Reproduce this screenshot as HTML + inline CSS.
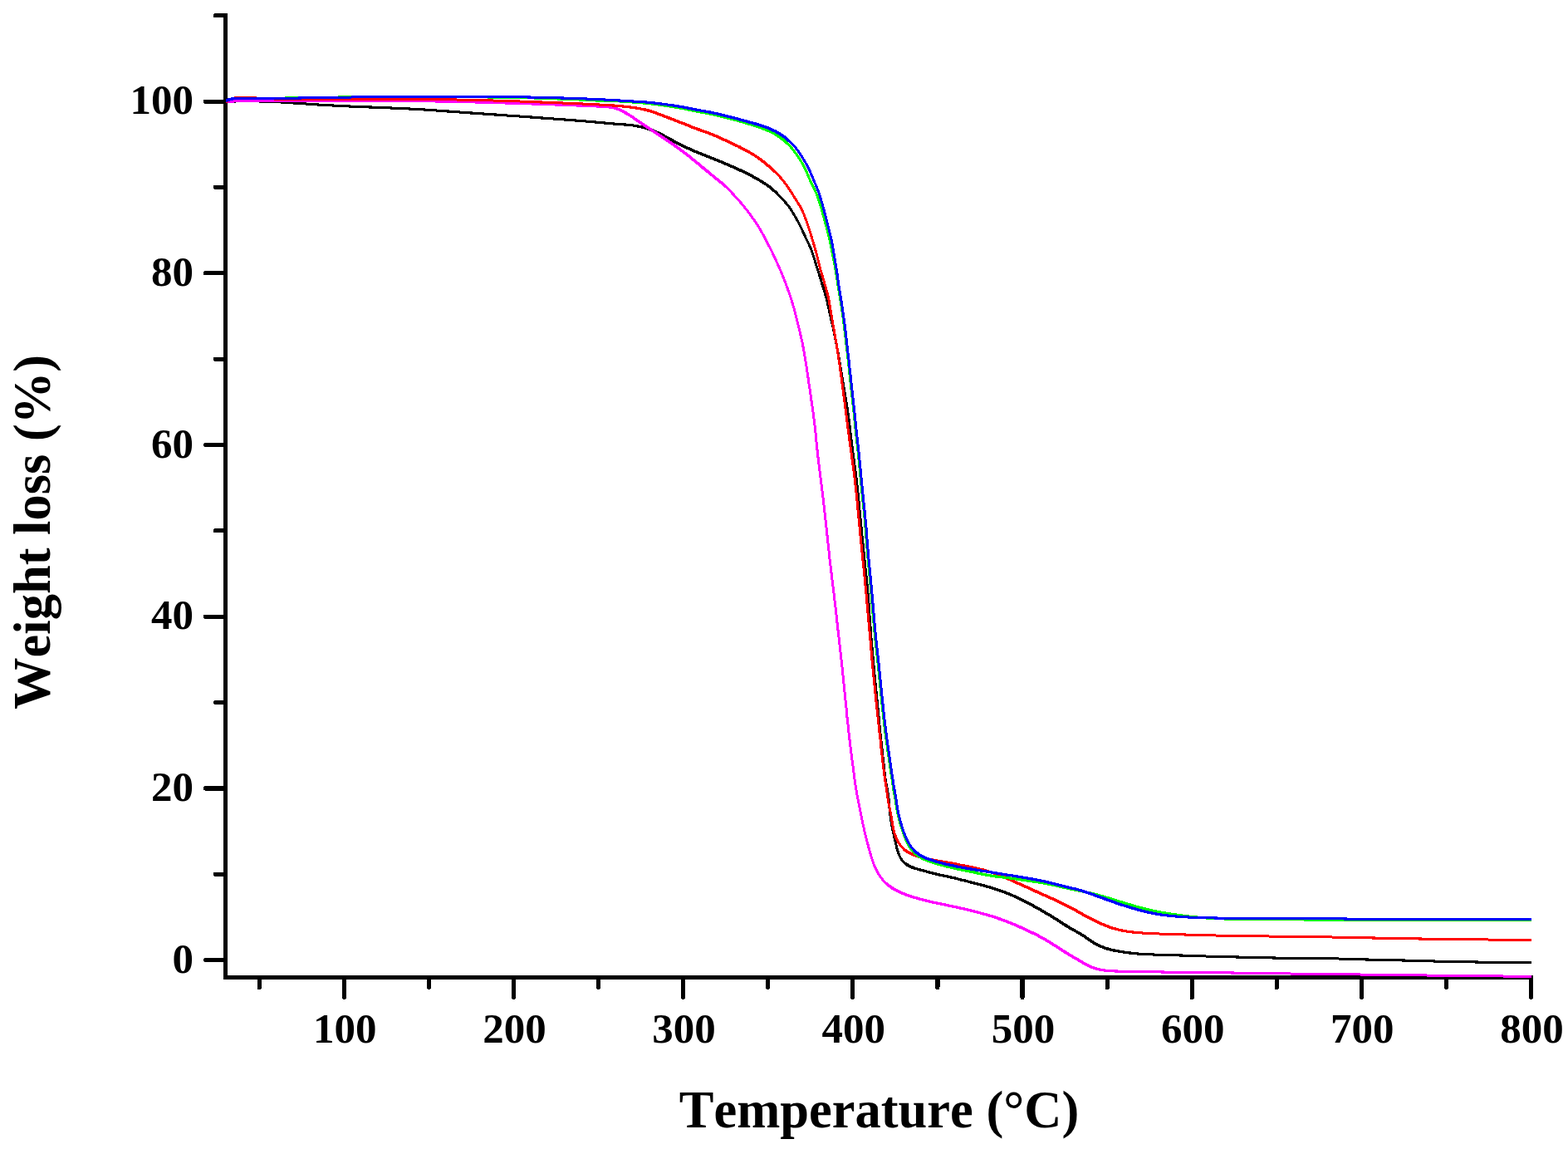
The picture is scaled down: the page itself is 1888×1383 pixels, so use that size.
<!DOCTYPE html>
<html lang="en"><head><meta charset="utf-8"><title>Weight loss vs Temperature</title>
<style>html,body{margin:0;padding:0;background:#fff;overflow:hidden}svg{display:block}</style></head>
<body><svg role="img" aria-label="Weight loss (%) versus Temperature (°C)" width="1888" height="1383" viewBox="0 0 1888 1383">
<rect width="1888" height="1383" fill="#fff"/>
<g fill="none" stroke="#000" stroke-width="5.2" stroke-linecap="round" shape-rendering="crispEdges">
<path d="M271.5,16.3 V1176.4 H1846.1" stroke-linecap="butt" stroke-linejoin="miter"/>
<path d="M247.5,1155.6 H270.5"/>
<path d="M259.5,1052.2 H270.5"/>
<path d="M247.5,948.9 H270.5"/>
<path d="M259.5,845.5 H270.5"/>
<path d="M247.5,742.2 H270.5"/>
<path d="M259.5,638.8 H270.5"/>
<path d="M247.5,535.5 H270.5"/>
<path d="M259.5,432.1 H270.5"/>
<path d="M247.5,328.8 H270.5"/>
<path d="M259.5,225.4 H270.5"/>
<path d="M247.5,122.1 H270.5"/>
<path d="M259.5,18.7 H270.5"/>
<path d="M312.2,1177.4 V1188.4"/>
<path d="M414.3,1177.4 V1200.4"/>
<path d="M516.4,1177.4 V1188.4"/>
<path d="M618.5,1177.4 V1200.4"/>
<path d="M720.6,1177.4 V1188.4"/>
<path d="M822.6,1177.4 V1200.4"/>
<path d="M924.7,1177.4 V1188.4"/>
<path d="M1026.8,1177.4 V1200.4"/>
<path d="M1128.9,1177.4 V1188.4"/>
<path d="M1231.0,1177.4 V1200.4"/>
<path d="M1333.1,1177.4 V1188.4"/>
<path d="M1435.2,1177.4 V1200.4"/>
<path d="M1537.2,1177.4 V1188.4"/>
<path d="M1639.3,1177.4 V1200.4"/>
<path d="M1741.4,1177.4 V1188.4"/>
<path d="M1843.5,1177.4 V1200.4"/>
</g>
<g stroke="none" shape-rendering="crispEdges">
<path d="M271.7,120.9 275.7,120.7 279.7,120.6 283.7,120.5 287.7,120.4 291.7,120.4 295.7,120.3 299.7,120.3 303.7,120.3 307.7,120.4 311.7,120.5 315.7,120.6 319.7,120.7 323.7,120.8 327.7,121.0 331.7,121.1 335.7,121.3 339.7,121.5 343.7,121.8 347.7,122.0 351.7,122.3 355.7,122.5 359.7,122.8 363.7,123.1 367.7,123.4 371.6,123.7 375.6,123.9 379.6,124.2 383.6,124.5 387.6,124.7 391.6,125.0 395.6,125.2 399.6,125.4 403.6,125.6 407.6,125.8 411.6,126.0 415.6,126.2 419.6,126.4 423.6,126.6 427.6,126.7 431.6,126.9 435.6,127.1 439.6,127.2 443.6,127.4 447.6,127.5 451.6,127.7 455.6,127.8 459.6,128.0 463.6,128.2 467.6,128.3 471.6,128.5 475.6,128.7 479.6,128.9 483.6,129.0 487.6,129.2 491.6,129.4 495.6,129.6 499.6,129.8 503.6,130.0 507.6,130.3 511.6,130.5 515.5,130.8 519.5,131.0 523.5,131.3 527.5,131.6 531.5,131.8 535.5,132.1 539.5,132.4 543.5,132.7 547.5,133.0 551.5,133.3 555.5,133.6 559.5,133.9 563.5,134.1 567.4,134.4 571.4,134.7 575.4,135.0 579.4,135.3 583.4,135.5 587.4,135.8 591.4,136.1 595.4,136.4 599.4,136.6 603.4,136.9 607.4,137.2 611.4,137.5 615.4,137.7 619.3,138.0 623.3,138.3 627.3,138.6 631.3,138.9 635.3,139.2 639.3,139.4 643.3,139.7 647.3,140.0 651.3,140.3 655.3,140.6 659.3,140.9 663.3,141.2 667.2,141.5 671.2,141.8 675.2,142.1 679.2,142.4 683.2,142.7 687.2,143.0 691.2,143.3 695.2,143.6 699.2,143.9 703.2,144.2 707.1,144.6 711.1,144.9 715.1,145.3 719.1,145.6 723.1,146.0 727.1,146.4 731.1,146.7 735.0,147.1 739.0,147.4 743.0,147.7 747.0,148.0 751.0,148.3 755.0,148.6 759.0,149.0 763.0,149.5 766.9,150.1 770.8,150.8 774.7,151.7 778.5,152.8 782.3,154.0 786.1,155.3 789.8,156.8 793.4,158.4 797.0,160.2 800.5,162.0 804.0,163.9 807.5,165.9 811.1,167.8 814.6,169.7 818.1,171.6 821.7,173.4 825.4,175.1 829.0,176.8 832.6,178.4 836.3,180.0 840.0,181.6 843.7,183.1 847.4,184.6 851.2,186.0 854.9,187.5 858.6,189.0 862.3,190.5 866.0,192.0 869.7,193.5 873.4,195.1 877.1,196.7 880.7,198.2 884.4,199.8 888.1,201.5 891.7,203.1 895.3,204.8 898.9,206.6 902.5,208.4 906.0,210.2 909.5,212.1 913.0,214.1 916.5,216.1 919.9,218.1 923.2,220.3 926.5,222.5 929.6,225.0 932.5,227.6 935.4,230.3 940.4,235.6 943.1,238.5 945.8,241.4 948.4,244.4 950.8,247.5 953.1,250.7 955.2,254.0 957.3,257.5 959.3,260.9 961.3,264.4 963.2,267.9 965.0,271.5 966.7,275.1 968.3,278.7 970.0,282.3 971.7,286.0 973.4,289.6 975.2,293.2 976.8,296.8 978.4,300.5 979.7,304.2 981.0,308.0 982.2,311.9 983.3,315.7 984.5,319.5 985.7,323.3 986.9,327.1 988.2,331.0 989.3,334.8 990.5,338.6 991.6,342.5 992.8,346.3 994.0,350.1 995.1,354.0 996.2,357.8 997.2,361.7 998.1,365.6 999.0,369.5 999.8,373.4 1000.7,377.3 1001.6,381.2 1002.5,385.1 1003.4,389.0 1004.3,392.9 1005.1,396.8 1006.0,400.7 1006.7,404.6 1007.5,408.6 1008.3,412.5 1009.0,416.4 1009.7,420.4 1010.5,424.3 1011.2,428.2 1011.9,432.2 1012.6,436.1 1013.2,440.1 1013.9,444.0 1014.6,448.0 1015.2,451.9 1015.9,455.8 1016.5,459.8 1017.2,463.7 1017.8,467.7 1018.4,471.6 1019.1,475.6 1019.8,479.5 1020.4,483.5 1021.1,487.4 1021.7,491.4 1022.3,495.3 1022.9,499.3 1023.4,503.3 1023.9,507.2 1024.4,511.2 1024.9,515.2 1025.3,519.2 1025.8,523.1 1026.3,527.1 1026.8,531.1 1027.3,535.1 1027.8,539.0 1028.3,543.0 1028.8,547.0 1029.4,550.9 1029.9,554.9 1030.4,558.9 1031.0,562.8 1031.5,566.8 1032.0,570.8 1032.5,574.7 1033.0,578.7 1033.4,582.7 1033.9,586.7 1034.3,590.6 1034.7,594.6 1035.1,598.6 1035.5,602.6 1035.8,606.6 1036.2,610.6 1036.6,614.5 1037.0,618.5 1037.4,622.5 1037.8,626.5 1038.2,630.5 1038.6,634.5 1039.0,638.4 1039.3,642.4 1039.7,646.4 1040.1,650.4 1040.5,654.4 1040.9,658.4 1041.3,662.3 1041.7,666.3 1042.1,670.3 1042.5,674.3 1042.9,678.3 1043.3,682.2 1043.7,686.2 1044.1,690.2 1044.6,694.2 1045.0,698.2 1045.4,702.2 1045.8,706.1 1046.2,710.1 1046.5,714.1 1046.8,718.1 1047.2,722.1 1047.5,726.1 1047.8,730.1 1048.0,734.1 1048.3,738.0 1048.6,742.0 1048.9,746.0 1049.2,750.0 1049.5,754.0 1049.8,758.0 1050.1,762.0 1050.4,766.0 1050.7,770.0 1051.1,774.0 1051.4,777.9 1051.8,781.9 1052.1,785.9 1052.5,789.9 1052.8,793.9 1053.2,797.9 1053.6,801.9 1053.9,805.8 1054.3,809.8 1054.7,813.8 1055.1,817.8 1055.5,821.8 1055.9,825.8 1056.3,829.7 1056.7,833.7 1057.1,837.7 1057.5,841.7 1057.9,845.7 1058.3,849.7 1058.7,853.6 1059.1,857.6 1059.5,861.6 1059.8,865.6 1060.2,869.6 1060.6,873.6 1061.0,877.5 1061.4,881.5 1061.8,885.5 1062.3,889.5 1062.7,893.5 1063.1,897.4 1063.5,901.4 1064.0,905.4 1064.4,909.4 1064.8,913.4 1065.3,917.3 1065.7,921.3 1066.1,925.3 1066.6,929.3 1067.1,933.3 1067.6,937.2 1068.2,941.2 1069.0,945.1 1069.7,949.0 1070.4,953.0 1071.0,956.9 1071.5,960.9 1071.9,964.9 1072.2,968.8 1072.5,972.8 1072.9,976.8 1073.4,980.8 1074.0,984.8 1074.6,988.7 1075.2,992.7 1075.9,996.6 1076.7,1000.5 1077.6,1004.4 1078.5,1008.3 1079.4,1012.2 1080.2,1016.1 1081.2,1020.0 1082.3,1023.9 1083.6,1027.7 1085.3,1031.3 1087.5,1034.7 1090.4,1037.7 1091.2,1038.0 1094.6,1040.2 1098.2,1042.0 1102.0,1043.4 1105.8,1044.6 1109.7,1045.6 1113.5,1046.7 1117.4,1047.8 1121.3,1048.8 1125.1,1049.9 1129.0,1050.8 1132.9,1051.7 1136.9,1052.5 1140.8,1053.3 1144.7,1054.1 1148.6,1055.0 1152.5,1056.0 1156.3,1057.0 1160.2,1057.9 1164.1,1058.9 1168.0,1059.9 1171.9,1060.9 1175.7,1061.9 1179.6,1062.9 1183.5,1063.9 1187.3,1065.0 1191.2,1066.1 1195.0,1067.2 1198.8,1068.4 1202.6,1069.7 1206.4,1071.0 1210.1,1072.3 1213.9,1073.8 1217.6,1075.3 1221.2,1076.8 1224.9,1078.5 1228.5,1080.1 1232.1,1081.9 1235.7,1083.7 1239.2,1085.6 1242.7,1087.4 1246.2,1089.4 1249.7,1091.3 1253.2,1093.3 1256.7,1095.3 1260.1,1097.3 1263.6,1099.3 1267.0,1101.4 1270.4,1103.5 1273.8,1105.6 1277.1,1107.8 1280.5,1110.0 1283.9,1112.1 1287.3,1114.2 1290.7,1116.3 1294.2,1118.2 1297.7,1120.2 1301.2,1122.2 1304.6,1124.2 1307.9,1126.4 1311.2,1128.7 1314.5,1131.0 1317.9,1133.2 1321.4,1135.2 1325.0,1137.0 1328.7,1138.5 1332.5,1139.9 1336.3,1141.0 1340.2,1142.0 1344.1,1142.8 1348.1,1143.6 1352.0,1144.2 1356.0,1144.8 1360.0,1145.3 1363.9,1145.8 1367.9,1146.2 1371.9,1146.6 1375.9,1146.9 1379.9,1147.1 1383.9,1147.3 1387.9,1147.4 1391.9,1147.6 1395.9,1147.7 1399.9,1147.8 1403.9,1147.9 1407.9,1148.1 1411.9,1148.2 1415.9,1148.3 1419.9,1148.4 1423.9,1148.5 1427.9,1148.7 1431.9,1148.8 1435.9,1148.9 1439.9,1149.1 1443.9,1149.2 1447.9,1149.3 1451.9,1149.5 1455.9,1149.6 1459.9,1149.7 1463.9,1149.8 1467.9,1149.9 1471.9,1150.0 1475.9,1150.1 1479.9,1150.2 1483.9,1150.3 1487.9,1150.4 1491.9,1150.5 1495.9,1150.6 1499.9,1150.7 1503.9,1150.8 1507.9,1150.9 1511.9,1151.0 1515.9,1151.1 1519.9,1151.2 1523.9,1151.3 1527.9,1151.4 1531.9,1151.4 1535.9,1151.5 1539.9,1151.6 1543.9,1151.6 1547.9,1151.7 1551.9,1151.7 1555.9,1151.7 1559.9,1151.8 1563.9,1151.8 1567.9,1151.8 1571.9,1151.8 1575.9,1151.9 1579.9,1151.9 1583.9,1151.9 1587.9,1152.0 1591.9,1152.0 1595.9,1152.1 1599.9,1152.2 1603.9,1152.2 1607.9,1152.3 1611.9,1152.5 1615.9,1152.6 1619.9,1152.7 1623.9,1152.8 1627.9,1152.9 1631.9,1153.1 1635.9,1153.2 1639.9,1153.3 1643.9,1153.4 1647.9,1153.5 1651.9,1153.6 1655.9,1153.7 1659.9,1153.8 1663.9,1153.9 1667.9,1154.0 1671.9,1154.1 1675.9,1154.2 1679.9,1154.3 1683.9,1154.3 1687.9,1154.4 1691.9,1154.5 1695.9,1154.6 1699.9,1154.7 1703.9,1154.8 1707.9,1154.9 1711.9,1155.0 1715.9,1155.2 1719.9,1155.3 1724.0,1155.4 1728.0,1155.5 1732.0,1155.6 1736.0,1155.7 1740.0,1155.8 1744.0,1155.9 1748.0,1156.0 1752.0,1156.0 1756.0,1156.1 1760.0,1156.2 1764.0,1156.3 1768.0,1156.3 1772.0,1156.4 1776.0,1156.4 1780.0,1156.5 1784.0,1156.5 1788.0,1156.6 1792.0,1156.6 1796.0,1156.7 1800.0,1156.7 1804.0,1156.7 1808.0,1156.7 1812.0,1156.7 1816.0,1156.7 1820.0,1156.8 1824.0,1156.8 1828.0,1156.8 1832.0,1156.8 1836.0,1156.8 1840.0,1156.8 1844.0,1156.8 1844.0,1159.8 1840.0,1159.8 1836.0,1159.8 1832.0,1159.8 1828.0,1159.8 1824.0,1159.8 1820.0,1159.8 1816.0,1159.8 1812.0,1159.7 1808.0,1159.7 1804.0,1159.7 1800.0,1159.7 1796.0,1159.7 1792.0,1159.6 1788.0,1159.6 1784.0,1159.6 1780.0,1159.5 1776.0,1159.5 1772.0,1159.4 1768.0,1159.3 1764.0,1159.3 1760.0,1159.2 1756.0,1159.1 1752.0,1159.1 1748.0,1159.0 1744.0,1158.9 1740.0,1158.8 1736.0,1158.8 1732.0,1158.7 1728.0,1158.6 1724.0,1158.4 1719.9,1158.3 1715.9,1158.2 1711.9,1158.1 1707.9,1158.0 1703.9,1157.9 1699.9,1157.8 1695.9,1157.7 1691.9,1157.6 1687.9,1157.5 1683.9,1157.4 1679.9,1157.3 1675.9,1157.2 1671.9,1157.1 1667.9,1157.0 1663.9,1156.9 1659.9,1156.8 1655.9,1156.8 1651.9,1156.7 1647.9,1156.6 1643.9,1156.5 1639.9,1156.4 1635.9,1156.2 1631.9,1156.1 1627.9,1156.0 1623.9,1155.9 1619.9,1155.7 1615.9,1155.6 1611.9,1155.5 1607.9,1155.4 1603.9,1155.3 1599.9,1155.2 1595.9,1155.1 1591.9,1155.1 1587.9,1155.0 1583.9,1154.9 1579.9,1154.9 1575.9,1154.9 1571.9,1154.8 1567.9,1154.8 1563.9,1154.8 1559.9,1154.8 1555.9,1154.7 1551.9,1154.7 1547.9,1154.7 1543.9,1154.6 1539.9,1154.6 1535.9,1154.5 1531.9,1154.5 1527.9,1154.4 1523.9,1154.3 1519.9,1154.2 1515.9,1154.1 1511.9,1154.0 1507.9,1154.0 1503.9,1153.9 1499.9,1153.8 1495.9,1153.7 1491.9,1153.6 1487.9,1153.5 1483.9,1153.4 1479.9,1153.3 1475.9,1153.2 1471.9,1153.1 1467.9,1153.0 1463.9,1152.9 1459.9,1152.8 1455.9,1152.7 1451.9,1152.5 1447.9,1152.4 1443.9,1152.3 1439.9,1152.1 1435.9,1152.0 1431.9,1151.9 1427.9,1151.7 1423.9,1151.6 1419.9,1151.5 1415.9,1151.4 1411.9,1151.2 1407.9,1151.1 1403.9,1151.0 1399.9,1150.9 1395.9,1150.8 1391.9,1150.6 1387.9,1150.5 1383.9,1150.4 1379.9,1150.2 1375.9,1150.0 1371.9,1149.8 1367.9,1149.4 1363.9,1149.0 1360.0,1148.6 1356.0,1148.0 1352.0,1147.5 1348.1,1146.9 1344.1,1146.2 1340.2,1145.5 1336.3,1144.6 1332.5,1143.5 1328.7,1142.3 1325.0,1140.8 1321.4,1139.2 1317.9,1137.4 1314.5,1135.4 1311.2,1133.1 1307.9,1130.8 1304.6,1128.5 1301.2,1126.4 1297.7,1124.3 1294.2,1122.3 1290.7,1120.4 1287.3,1118.4 1283.9,1116.4 1280.5,1114.3 1277.1,1112.1 1273.8,1109.9 1270.4,1107.7 1267.0,1105.6 1263.6,1103.5 1260.1,1101.5 1256.7,1099.4 1253.2,1097.4 1249.7,1095.4 1246.2,1093.5 1242.7,1091.5 1239.2,1089.6 1235.7,1087.8 1232.1,1085.9 1228.5,1084.1 1224.9,1082.4 1221.2,1080.7 1217.6,1079.1 1213.9,1077.6 1210.1,1076.1 1206.4,1074.7 1202.6,1073.4 1198.8,1072.1 1195.0,1070.8 1191.2,1069.7 1187.3,1068.5 1183.5,1067.4 1179.6,1066.4 1175.7,1065.4 1171.9,1064.4 1168.0,1063.4 1164.1,1062.4 1160.2,1061.4 1156.3,1060.5 1152.5,1059.5 1148.6,1058.5 1144.7,1057.6 1140.8,1056.7 1136.9,1055.9 1132.9,1055.1 1129.0,1054.2 1125.1,1053.4 1121.3,1052.4 1117.4,1051.3 1113.5,1050.2 1109.7,1049.2 1105.8,1048.1 1102.0,1047.0 1098.2,1045.8 1094.6,1044.3 1091.2,1042.4 1086.1,1037.7 1083.9,1034.7 1082.0,1031.3 1080.4,1027.7 1079.1,1023.9 1078.1,1020.0 1077.2,1016.1 1076.3,1012.2 1075.4,1008.3 1074.5,1004.4 1073.6,1000.5 1072.8,996.6 1072.2,992.7 1071.5,988.7 1070.9,984.8 1070.4,980.8 1069.9,976.8 1069.5,972.8 1069.2,968.8 1068.9,964.9 1068.5,960.9 1068.0,956.9 1067.4,953.0 1066.7,949.0 1065.9,945.1 1065.2,941.2 1064.6,937.2 1064.0,933.3 1063.6,929.3 1063.1,925.3 1062.7,921.3 1062.3,917.3 1061.8,913.4 1061.4,909.4 1061.0,905.4 1060.5,901.4 1060.1,897.4 1059.7,893.5 1059.2,889.5 1058.8,885.5 1058.4,881.5 1058.0,877.5 1057.6,873.6 1057.2,869.6 1056.8,865.6 1056.4,861.6 1056.1,857.6 1055.7,853.6 1055.3,849.7 1054.9,845.7 1054.5,841.7 1054.1,837.7 1053.7,833.7 1053.3,829.7 1052.9,825.8 1052.5,821.8 1052.1,817.8 1051.7,813.8 1051.3,809.8 1050.9,805.8 1050.6,801.9 1050.2,797.9 1049.8,793.9 1049.5,789.9 1049.1,785.9 1048.7,781.9 1048.4,777.9 1048.1,774.0 1047.7,770.0 1047.4,766.0 1047.1,762.0 1046.7,758.0 1046.4,754.0 1046.2,750.0 1045.9,746.0 1045.6,742.0 1045.3,738.0 1045.0,734.1 1044.8,730.1 1044.5,726.1 1044.2,722.1 1043.8,718.1 1043.5,714.1 1043.1,710.1 1042.8,706.1 1042.4,702.2 1042.0,698.2 1041.5,694.2 1041.1,690.2 1040.7,686.2 1040.3,682.2 1039.9,678.3 1039.5,674.3 1039.1,670.3 1038.7,666.3 1038.3,662.3 1037.9,658.4 1037.5,654.4 1037.1,650.4 1036.7,646.4 1036.3,642.4 1035.9,638.4 1035.6,634.5 1035.2,630.5 1034.8,626.5 1034.4,622.5 1034.0,618.5 1033.6,614.5 1033.2,610.6 1032.8,606.6 1032.5,602.6 1032.1,598.6 1031.7,594.6 1031.3,590.6 1030.8,586.7 1030.4,582.7 1029.9,578.7 1029.5,574.7 1029.0,570.8 1028.5,566.8 1027.9,562.8 1027.4,558.9 1026.9,554.9 1026.3,550.9 1025.8,547.0 1025.3,543.0 1024.8,539.0 1024.3,535.1 1023.8,531.1 1023.3,527.1 1022.8,523.1 1022.3,519.2 1021.8,515.2 1021.4,511.2 1020.9,507.2 1020.4,503.3 1019.9,499.3 1019.3,495.3 1018.7,491.4 1018.1,487.4 1017.4,483.5 1016.7,479.5 1016.1,475.6 1015.4,471.6 1014.8,467.7 1014.1,463.7 1013.5,459.8 1012.8,455.8 1012.2,451.9 1011.5,448.0 1010.9,444.0 1010.2,440.1 1009.5,436.1 1008.8,432.2 1008.1,428.2 1007.4,424.3 1006.7,420.4 1006.0,416.4 1005.2,412.5 1004.5,408.6 1003.7,404.6 1002.9,400.7 1002.1,396.8 1001.2,392.9 1000.3,389.0 999.4,385.1 998.5,381.2 997.6,377.3 996.8,373.4 995.9,369.5 995.0,365.6 994.1,361.7 993.1,357.8 992.0,354.0 990.8,350.1 989.7,346.3 988.5,342.5 987.4,338.6 986.2,334.8 985.0,331.0 983.8,327.1 982.6,323.3 981.4,319.5 980.2,315.7 979.0,311.9 977.9,308.0 976.6,304.2 975.2,300.5 973.6,296.8 971.9,293.2 970.2,289.6 968.4,286.0 966.7,282.3 965.1,278.7 963.4,275.1 961.6,271.5 959.8,267.9 957.9,264.4 955.9,260.9 953.8,257.5 951.7,254.0 949.5,250.7 947.0,247.5 944.4,244.4 941.7,241.4 939.0,238.5 936.1,235.6 935.4,235.2 932.5,232.4 929.6,229.7 926.5,227.1 923.2,224.6 919.9,222.4 916.5,220.3 913.0,218.2 909.5,216.2 906.0,214.3 902.5,212.4 898.9,210.6 895.3,208.8 891.7,207.1 888.1,205.4 884.4,203.7 880.7,202.1 877.1,200.5 873.4,199.0 869.7,197.4 866.0,195.8 862.3,194.3 858.6,192.8 854.9,191.3 851.2,189.8 847.4,188.4 843.7,186.9 840.0,185.4 836.3,183.9 832.6,182.3 829.0,180.7 825.4,179.0 821.7,177.3 818.1,175.6 814.6,173.8 811.1,171.9 807.5,170.0 804.0,168.0 800.5,166.1 797.0,164.2 793.4,162.4 789.8,160.7 786.1,159.1 782.3,157.7 778.5,156.4 774.7,155.2 770.8,154.3 766.9,153.4 763.0,152.7 759.0,152.2 755.0,151.8 751.0,151.5 747.0,151.2 743.0,150.9 739.0,150.6 735.0,150.3 731.1,149.9 727.1,149.5 723.1,149.2 719.1,148.8 715.1,148.4 711.1,148.1 707.1,147.7 703.2,147.4 699.2,147.1 695.2,146.8 691.2,146.4 687.2,146.1 683.2,145.8 679.2,145.5 675.2,145.2 671.2,144.9 667.2,144.6 663.3,144.3 659.3,144.0 655.3,143.7 651.3,143.5 647.3,143.2 643.3,142.9 639.3,142.6 635.3,142.3 631.3,142.0 627.3,141.7 623.3,141.4 619.3,141.2 615.4,140.9 611.4,140.6 607.4,140.3 603.4,140.0 599.4,139.8 595.4,139.5 591.4,139.2 587.4,138.9 583.4,138.7 579.4,138.4 575.4,138.1 571.4,137.8 567.4,137.6 563.5,137.3 559.5,137.0 555.5,136.7 551.5,136.4 547.5,136.1 543.5,135.8 539.5,135.6 535.5,135.3 531.5,135.0 527.5,134.7 523.5,134.4 519.5,134.2 515.5,133.9 511.6,133.6 507.6,133.4 503.6,133.2 499.6,132.9 495.6,132.7 491.6,132.5 487.6,132.3 483.6,132.1 479.6,131.9 475.6,131.8 471.6,131.6 467.6,131.4 463.6,131.3 459.6,131.1 455.6,130.9 451.6,130.8 447.6,130.6 443.6,130.5 439.6,130.3 435.6,130.1 431.6,130.0 427.6,129.8 423.6,129.6 419.6,129.5 415.6,129.3 411.6,129.1 407.6,128.9 403.6,128.7 399.6,128.5 395.6,128.3 391.6,128.1 387.6,127.9 383.6,127.6 379.6,127.4 375.6,127.1 371.6,126.8 367.7,126.5 363.7,126.2 359.7,125.9 355.7,125.7 351.7,125.4 347.7,125.1 343.7,124.9 339.7,124.6 335.7,124.4 331.7,124.2 327.7,124.1 323.7,123.9 319.7,123.8 315.7,123.6 311.7,123.5 307.7,123.4 303.7,123.4 299.7,123.3 295.7,123.3 291.7,123.4 287.7,123.4 283.7,123.5 279.7,123.6 275.7,123.8 271.7,123.9Z" fill="#000000"/>
<path d="M271.7,121.3 275.7,120.9 279.7,120.6 283.7,120.3 287.7,120.1 291.7,120.1 295.6,120.0 299.6,120.0 303.6,120.0 307.6,119.9 311.6,119.9 315.6,119.9 319.6,119.9 323.6,119.9 327.7,119.8 331.7,119.8 335.7,119.8 339.7,119.8 343.7,119.8 347.7,119.8 351.7,119.8 355.7,119.7 359.7,119.7 363.7,119.7 367.7,119.7 371.7,119.7 375.7,119.7 379.7,119.7 383.7,119.7 387.7,119.7 391.7,119.7 395.7,119.7 399.7,119.7 403.7,119.7 407.7,119.7 411.7,119.7 415.7,119.7 419.8,119.7 423.8,119.7 427.8,119.7 431.8,119.7 435.8,119.7 439.8,119.7 443.8,119.7 447.8,119.7 451.8,119.7 455.8,119.7 459.8,119.7 463.8,119.7 467.8,119.7 471.8,119.7 475.8,119.7 479.8,119.8 483.8,119.8 487.8,119.9 491.8,120.0 495.8,120.0 499.8,120.1 503.8,120.1 507.8,120.2 511.8,120.3 515.8,120.3 519.8,120.4 523.8,120.5 527.8,120.5 531.8,120.6 535.8,120.7 539.8,120.8 543.8,120.9 547.8,120.9 551.8,121.0 555.8,121.1 559.8,121.2 563.8,121.3 567.8,121.4 571.8,121.5 575.8,121.6 579.8,121.7 583.8,121.8 587.8,121.9 591.8,122.0 595.9,122.1 599.9,122.2 603.9,122.3 607.9,122.4 611.9,122.5 615.9,122.7 619.9,122.8 623.9,122.9 627.9,123.0 631.9,123.2 635.9,123.3 639.9,123.4 643.9,123.6 647.9,123.7 651.9,123.8 655.9,124.0 659.9,124.1 663.9,124.3 667.9,124.4 671.9,124.6 675.9,124.7 679.9,124.9 683.9,125.0 687.9,125.2 691.9,125.3 695.9,125.5 699.9,125.7 703.9,125.8 707.9,126.0 711.9,126.2 715.9,126.4 719.9,126.5 723.9,126.7 727.9,126.9 731.8,127.2 735.8,127.6 739.7,128.2 743.5,129.3 747.1,130.7 750.7,132.5 754.2,134.3 757.7,136.3 761.0,138.5 764.3,140.7 767.6,143.0 770.9,145.2 774.3,147.5 777.6,149.7 780.9,151.9 784.2,154.1 787.5,156.4 790.9,158.6 794.2,160.8 797.5,163.1 800.9,165.3 804.2,167.5 807.5,169.8 810.8,172.0 814.1,174.2 817.4,176.5 820.6,178.9 823.8,181.2 827.0,183.7 830.1,186.1 833.2,188.6 836.3,191.2 839.4,193.7 842.5,196.3 845.5,198.9 848.7,201.4 851.8,203.9 854.9,206.5 857.9,209.0 861.0,211.6 864.1,214.1 867.3,216.6 870.4,219.1 873.4,221.6 878.4,226.7 881.0,229.7 883.7,232.6 886.4,235.6 889.1,238.5 891.8,241.5 894.4,244.5 896.9,247.6 899.4,250.7 901.8,253.8 904.2,257.0 906.6,260.2 908.9,263.5 911.1,266.8 913.3,270.1 915.4,273.5 917.5,276.9 919.4,280.4 921.3,283.9 923.1,287.5 924.9,291.1 926.8,294.6 928.7,298.1 930.5,301.7 932.2,305.3 933.9,308.9 935.6,312.6 937.2,316.2 938.9,319.8 940.5,323.5 942.1,327.2 943.6,330.9 945.1,334.6 946.5,338.3 947.9,342.1 949.3,345.8 950.7,349.6 952.0,353.4 953.3,357.2 954.5,361.0 955.7,364.8 956.8,368.6 957.9,372.5 958.9,376.4 959.9,380.2 960.9,384.1 961.8,388.0 962.8,391.9 963.8,395.8 964.7,399.7 965.6,403.6 966.5,407.5 967.3,411.4 968.1,415.3 968.9,419.2 969.6,423.2 970.3,427.1 970.9,431.1 971.6,435.0 972.2,439.0 972.8,442.9 973.4,446.9 974.0,450.8 974.6,454.8 975.1,458.8 975.7,462.7 976.3,466.7 976.9,470.6 977.4,474.6 978.0,478.6 978.6,482.5 979.1,486.5 979.7,490.5 980.3,494.4 980.8,498.4 981.3,502.4 981.8,506.3 982.3,510.3 982.7,514.3 983.2,518.3 983.6,522.2 984.0,526.2 984.4,530.2 984.7,534.2 985.1,538.2 985.6,542.2 986.0,546.1 986.5,550.1 986.9,554.1 987.4,558.1 987.9,562.0 988.4,566.0 988.9,570.0 989.4,573.9 989.9,577.9 990.4,581.9 990.9,585.9 991.4,589.8 991.9,593.8 992.3,597.8 992.8,601.8 993.3,605.7 993.7,609.7 994.2,613.7 994.6,617.7 995.0,621.7 995.5,625.6 995.9,629.6 996.4,633.6 996.8,637.6 997.2,641.5 997.7,645.5 998.1,649.5 998.5,653.5 998.9,657.5 999.3,661.4 999.8,665.4 1000.2,669.4 1000.6,673.4 1001.1,677.4 1001.5,681.3 1002.0,685.3 1002.5,689.3 1002.9,693.3 1003.4,697.2 1003.9,701.2 1004.4,705.2 1004.9,709.2 1005.4,713.1 1005.9,717.1 1006.3,721.1 1006.8,725.1 1007.2,729.0 1007.7,733.0 1008.1,737.0 1008.6,741.0 1009.0,744.9 1009.5,748.9 1009.9,752.9 1010.4,756.9 1010.8,760.9 1011.3,764.8 1011.7,768.8 1012.2,772.8 1012.6,776.8 1013.1,780.7 1013.5,784.7 1014.0,788.7 1014.4,792.7 1014.9,796.7 1015.3,800.6 1015.7,804.6 1016.1,808.6 1016.5,812.6 1016.9,816.6 1017.3,820.5 1017.7,824.5 1018.1,828.5 1018.5,832.5 1018.9,836.5 1019.3,840.5 1019.7,844.4 1020.1,848.4 1020.5,852.4 1020.9,856.4 1021.3,860.4 1021.7,864.4 1022.1,868.3 1022.5,872.3 1022.9,876.3 1023.3,880.3 1023.8,884.3 1024.3,888.2 1024.7,892.2 1025.2,896.2 1025.7,900.2 1026.2,904.1 1026.7,908.1 1027.2,912.1 1027.7,916.0 1028.2,920.0 1028.7,924.0 1029.2,928.0 1029.7,931.9 1030.2,935.9 1030.8,939.9 1031.4,943.8 1032.0,947.8 1032.6,951.7 1033.3,955.7 1034.1,959.6 1034.8,963.5 1035.6,967.5 1036.4,971.4 1037.2,975.3 1038.0,979.2 1038.8,983.2 1039.6,987.1 1040.4,991.0 1041.2,994.9 1042.1,998.8 1043.0,1002.7 1043.9,1006.6 1044.9,1010.5 1045.9,1014.4 1047.0,1018.2 1048.0,1022.1 1049.1,1026.0 1050.2,1029.8 1051.4,1033.6 1052.7,1037.4 1054.1,1041.2 1055.7,1044.8 1057.6,1048.4 1059.6,1051.9 1061.9,1055.2 1064.4,1058.4 1067.2,1061.4 1068.0,1061.8 1071.1,1064.4 1074.4,1066.8 1077.8,1068.9 1081.4,1070.9 1085.0,1072.6 1088.7,1074.1 1092.5,1075.5 1096.2,1076.9 1100.1,1078.1 1103.9,1079.3 1107.7,1080.4 1111.6,1081.5 1115.5,1082.5 1119.4,1083.4 1123.3,1084.3 1127.2,1085.2 1131.1,1086.0 1135.0,1086.8 1139.0,1087.6 1142.9,1088.4 1146.8,1089.2 1150.7,1090.0 1154.6,1090.9 1158.5,1091.8 1162.4,1092.7 1166.3,1093.6 1170.2,1094.6 1174.1,1095.5 1178.0,1096.5 1181.8,1097.6 1185.7,1098.6 1189.5,1099.7 1193.4,1100.8 1197.2,1102.0 1201.0,1103.3 1204.8,1104.6 1208.5,1105.9 1212.3,1107.3 1216.0,1108.8 1219.7,1110.3 1223.4,1111.8 1227.0,1113.4 1230.7,1115.0 1234.3,1116.7 1238.0,1118.4 1241.6,1120.1 1245.2,1121.8 1248.8,1123.6 1252.3,1125.4 1255.8,1127.3 1259.3,1129.3 1262.7,1131.3 1266.1,1133.4 1269.5,1135.5 1272.9,1137.7 1276.3,1139.8 1279.6,1142.0 1283.0,1144.2 1286.4,1146.3 1289.8,1148.4 1293.3,1150.4 1296.7,1152.4 1300.2,1154.5 1303.6,1156.5 1307.1,1158.5 1310.7,1160.5 1314.3,1162.2 1318.0,1163.7 1321.9,1164.8 1325.8,1165.7 1329.7,1166.3 1333.7,1166.8 1337.7,1167.1 1341.7,1167.4 1345.7,1167.5 1349.7,1167.7 1353.7,1167.8 1357.7,1167.9 1361.7,1167.9 1365.7,1168.0 1369.7,1168.1 1373.7,1168.1 1377.7,1168.2 1381.7,1168.2 1385.7,1168.3 1389.7,1168.3 1393.7,1168.4 1397.7,1168.4 1401.7,1168.5 1405.7,1168.5 1409.7,1168.6 1413.7,1168.6 1417.7,1168.7 1421.7,1168.7 1425.7,1168.8 1429.7,1168.8 1433.7,1168.9 1437.7,1168.9 1441.7,1169.0 1445.7,1169.0 1449.8,1169.0 1453.8,1169.1 1457.8,1169.1 1461.8,1169.2 1465.8,1169.2 1469.8,1169.3 1473.8,1169.3 1477.8,1169.4 1481.8,1169.4 1485.8,1169.5 1489.8,1169.5 1493.8,1169.6 1497.8,1169.7 1501.8,1169.7 1505.8,1169.8 1509.8,1169.8 1513.8,1169.9 1517.8,1169.9 1521.8,1170.0 1525.8,1170.1 1529.8,1170.1 1533.8,1170.2 1537.8,1170.2 1541.8,1170.3 1545.8,1170.4 1549.8,1170.4 1553.8,1170.5 1557.8,1170.5 1561.8,1170.6 1565.8,1170.7 1569.8,1170.7 1573.8,1170.8 1577.8,1170.8 1581.8,1170.9 1585.8,1170.9 1589.8,1171.0 1593.8,1171.0 1597.8,1171.1 1601.8,1171.1 1605.8,1171.2 1609.8,1171.2 1613.9,1171.2 1617.9,1171.3 1621.9,1171.3 1625.9,1171.4 1629.9,1171.4 1633.9,1171.4 1637.9,1171.5 1641.9,1171.5 1645.9,1171.5 1649.9,1171.6 1653.9,1171.6 1657.9,1171.7 1661.9,1171.7 1665.9,1171.8 1669.9,1171.8 1673.9,1171.9 1677.9,1171.9 1681.9,1172.0 1685.9,1172.0 1689.9,1172.1 1693.9,1172.1 1697.9,1172.2 1701.9,1172.2 1705.9,1172.3 1709.9,1172.4 1713.9,1172.4 1717.9,1172.5 1721.9,1172.5 1725.9,1172.6 1729.9,1172.6 1733.9,1172.6 1737.9,1172.7 1741.9,1172.7 1745.9,1172.8 1749.9,1172.8 1753.9,1172.9 1757.9,1172.9 1761.9,1173.0 1765.9,1173.0 1770.0,1173.0 1774.0,1173.1 1778.0,1173.1 1782.0,1173.2 1786.0,1173.2 1790.0,1173.3 1794.0,1173.3 1798.0,1173.3 1802.0,1173.4 1806.0,1173.4 1810.0,1173.5 1814.0,1173.5 1818.0,1173.5 1822.0,1173.6 1826.0,1173.6 1830.0,1173.7 1834.0,1173.7 1838.0,1173.7 1842.0,1173.8 1844.0,1173.8 1844.0,1176.8 1842.0,1176.8 1838.0,1176.8 1834.0,1176.7 1830.0,1176.7 1826.0,1176.6 1822.0,1176.6 1818.0,1176.6 1814.0,1176.5 1810.0,1176.5 1806.0,1176.4 1802.0,1176.4 1798.0,1176.4 1794.0,1176.3 1790.0,1176.3 1786.0,1176.2 1782.0,1176.2 1778.0,1176.2 1774.0,1176.1 1770.0,1176.1 1765.9,1176.0 1761.9,1176.0 1757.9,1175.9 1753.9,1175.9 1749.9,1175.8 1745.9,1175.8 1741.9,1175.8 1737.9,1175.7 1733.9,1175.7 1729.9,1175.6 1725.9,1175.6 1721.9,1175.5 1717.9,1175.5 1713.9,1175.4 1709.9,1175.4 1705.9,1175.3 1701.9,1175.3 1697.9,1175.2 1693.9,1175.2 1689.9,1175.1 1685.9,1175.1 1681.9,1175.0 1677.9,1175.0 1673.9,1174.9 1669.9,1174.9 1665.9,1174.8 1661.9,1174.8 1657.9,1174.7 1653.9,1174.7 1649.9,1174.6 1645.9,1174.6 1641.9,1174.5 1637.9,1174.5 1633.9,1174.4 1629.9,1174.4 1625.9,1174.4 1621.9,1174.3 1617.9,1174.3 1613.9,1174.3 1609.8,1174.2 1605.8,1174.2 1601.8,1174.1 1597.8,1174.1 1593.8,1174.1 1589.8,1174.0 1585.8,1174.0 1581.8,1173.9 1577.8,1173.9 1573.8,1173.8 1569.8,1173.7 1565.8,1173.7 1561.8,1173.6 1557.8,1173.6 1553.8,1173.5 1549.8,1173.4 1545.8,1173.4 1541.8,1173.3 1537.8,1173.3 1533.8,1173.2 1529.8,1173.2 1525.8,1173.1 1521.8,1173.0 1517.8,1173.0 1513.8,1172.9 1509.8,1172.9 1505.8,1172.8 1501.8,1172.7 1497.8,1172.7 1493.8,1172.6 1489.8,1172.6 1485.8,1172.5 1481.8,1172.5 1477.8,1172.4 1473.8,1172.3 1469.8,1172.3 1465.8,1172.2 1461.8,1172.2 1457.8,1172.2 1453.8,1172.1 1449.8,1172.1 1445.7,1172.0 1441.7,1172.0 1437.7,1171.9 1433.7,1171.9 1429.7,1171.9 1425.7,1171.8 1421.7,1171.8 1417.7,1171.7 1413.7,1171.7 1409.7,1171.6 1405.7,1171.6 1401.7,1171.5 1397.7,1171.5 1393.7,1171.4 1389.7,1171.4 1385.7,1171.3 1381.7,1171.3 1377.7,1171.2 1373.7,1171.2 1369.7,1171.1 1365.7,1171.0 1361.7,1171.0 1357.7,1170.9 1353.7,1170.8 1349.7,1170.7 1345.7,1170.6 1341.7,1170.5 1337.7,1170.3 1333.7,1170.0 1329.7,1169.6 1325.8,1169.1 1321.9,1168.3 1318.0,1167.3 1314.3,1166.0 1310.7,1164.5 1307.1,1162.6 1303.6,1160.7 1300.2,1158.7 1296.7,1156.6 1293.3,1154.6 1289.8,1152.6 1286.4,1150.5 1283.0,1148.5 1279.6,1146.3 1276.3,1144.1 1272.9,1141.9 1269.5,1139.8 1266.1,1137.6 1262.7,1135.5 1259.3,1133.5 1255.8,1131.4 1252.3,1129.5 1248.8,1127.6 1245.2,1125.8 1241.6,1124.1 1238.0,1122.3 1234.3,1120.6 1230.7,1119.0 1227.0,1117.3 1223.4,1115.7 1219.7,1114.1 1216.0,1112.6 1212.3,1111.1 1208.5,1109.7 1204.8,1108.3 1201.0,1107.0 1197.2,1105.7 1193.4,1104.4 1189.5,1103.3 1185.7,1102.2 1181.8,1101.1 1178.0,1100.1 1174.1,1099.1 1170.2,1098.1 1166.3,1097.1 1162.4,1096.2 1158.5,1095.2 1154.6,1094.3 1150.7,1093.5 1146.8,1092.6 1142.9,1091.8 1139.0,1091.0 1135.0,1090.2 1131.1,1089.4 1127.2,1088.6 1123.3,1087.7 1119.4,1086.9 1115.5,1086.0 1111.6,1085.0 1107.7,1084.0 1103.9,1082.9 1100.1,1081.8 1096.2,1080.6 1092.5,1079.3 1088.7,1077.9 1085.0,1076.4 1081.4,1074.8 1077.8,1073.1 1074.4,1071.1 1071.1,1068.9 1068.0,1066.6 1063.0,1061.4 1060.5,1058.4 1058.2,1055.2 1056.1,1051.9 1054.2,1048.4 1052.5,1044.8 1050.9,1041.2 1049.5,1037.4 1048.3,1033.6 1047.1,1029.8 1046.0,1026.0 1044.9,1022.1 1043.9,1018.2 1042.8,1014.4 1041.8,1010.5 1040.8,1006.6 1039.9,1002.7 1039.0,998.8 1038.2,994.9 1037.3,991.0 1036.5,987.1 1035.7,983.2 1034.9,979.2 1034.1,975.3 1033.4,971.4 1032.6,967.5 1031.8,963.5 1031.0,959.6 1030.3,955.7 1029.6,951.7 1028.9,947.8 1028.3,943.8 1027.8,939.9 1027.2,935.9 1026.7,931.9 1026.2,928.0 1025.7,924.0 1025.2,920.0 1024.7,916.0 1024.2,912.1 1023.7,908.1 1023.2,904.1 1022.7,900.2 1022.2,896.2 1021.7,892.2 1021.2,888.2 1020.8,884.3 1020.3,880.3 1019.9,876.3 1019.5,872.3 1019.0,868.3 1018.6,864.4 1018.2,860.4 1017.9,856.4 1017.5,852.4 1017.1,848.4 1016.7,844.4 1016.3,840.5 1015.9,836.5 1015.5,832.5 1015.1,828.5 1014.7,824.5 1014.3,820.5 1013.9,816.6 1013.5,812.6 1013.1,808.6 1012.7,804.6 1012.3,800.6 1011.8,796.7 1011.4,792.7 1011.0,788.7 1010.5,784.7 1010.1,780.7 1009.6,776.8 1009.2,772.8 1008.7,768.8 1008.2,764.8 1007.8,760.9 1007.3,756.9 1006.9,752.9 1006.4,748.9 1006.0,744.9 1005.6,741.0 1005.1,737.0 1004.7,733.0 1004.2,729.0 1003.8,725.1 1003.3,721.1 1002.8,717.1 1002.4,713.1 1001.9,709.2 1001.4,705.2 1000.9,701.2 1000.4,697.2 999.9,693.3 999.4,689.3 999.0,685.3 998.5,681.3 998.1,677.4 997.6,673.4 997.2,669.4 996.8,665.4 996.3,661.4 995.9,657.5 995.5,653.5 995.1,649.5 994.6,645.5 994.2,641.5 993.8,637.6 993.3,633.6 992.9,629.6 992.5,625.6 992.0,621.7 991.6,617.7 991.1,613.7 990.7,609.7 990.2,605.7 989.8,601.8 989.3,597.8 988.9,593.8 988.4,589.8 987.9,585.9 987.4,581.9 986.9,577.9 986.4,573.9 985.9,570.0 985.4,566.0 984.9,562.0 984.4,558.1 983.9,554.1 983.4,550.1 983.0,546.1 982.5,542.2 982.1,538.2 981.7,534.2 981.3,530.2 981.0,526.2 980.6,522.2 980.2,518.3 979.7,514.3 979.3,510.3 978.8,506.3 978.3,502.4 977.8,498.4 977.3,494.4 976.7,490.5 976.1,486.5 975.5,482.5 975.0,478.6 974.4,474.6 973.8,470.6 973.3,466.7 972.7,462.7 972.1,458.8 971.5,454.8 971.0,450.8 970.4,446.9 969.8,442.9 969.2,439.0 968.5,435.0 967.9,431.1 967.2,427.1 966.5,423.2 965.8,419.2 965.1,415.3 964.3,411.4 963.4,407.5 962.5,403.6 961.6,399.7 960.7,395.8 959.7,391.9 958.8,388.0 957.8,384.1 956.8,380.2 955.8,376.4 954.8,372.5 953.7,368.6 952.6,364.8 951.4,361.0 950.1,357.2 948.9,353.4 947.5,349.6 946.1,345.8 944.8,342.1 943.3,338.3 941.9,334.6 940.4,330.9 938.8,327.2 937.3,323.5 935.6,319.8 934.0,316.2 932.3,312.6 930.6,308.9 928.9,305.3 927.2,301.7 925.3,298.1 923.4,294.6 921.6,291.1 919.8,287.5 917.9,283.9 916.0,280.4 914.0,276.9 911.9,273.5 909.8,270.1 907.5,266.8 905.2,263.5 902.9,260.2 900.5,257.0 898.1,253.8 895.6,250.7 893.0,247.6 890.4,244.5 887.8,241.5 885.0,238.5 882.3,235.6 879.6,232.6 877.0,229.7 874.2,226.7 873.4,226.4 870.4,223.7 867.3,221.2 864.1,218.7 861.0,216.2 857.9,213.7 854.9,211.1 851.8,208.6 848.7,206.0 845.5,203.5 842.5,201.0 839.4,198.4 836.3,195.8 833.2,193.3 830.1,190.7 827.0,188.2 823.8,185.8 820.6,183.3 817.4,181.0 814.1,178.6 810.8,176.4 807.5,174.1 804.2,171.9 800.9,169.6 797.5,167.4 794.2,165.2 790.9,163.0 787.5,160.7 784.2,158.5 780.9,156.3 777.6,154.0 774.3,151.8 770.9,149.6 767.6,147.3 764.3,145.1 761.0,142.8 757.7,140.6 754.2,138.5 750.7,136.5 747.1,134.7 743.5,133.0 739.7,131.7 735.8,130.9 731.8,130.4 727.9,130.1 723.9,129.8 719.9,129.6 715.9,129.4 711.9,129.3 707.9,129.1 703.9,128.9 699.9,128.8 695.9,128.6 691.9,128.4 687.9,128.3 683.9,128.1 679.9,127.9 675.9,127.8 671.9,127.6 667.9,127.5 663.9,127.3 659.9,127.2 655.9,127.0 651.9,126.9 647.9,126.8 643.9,126.6 639.9,126.5 635.9,126.4 631.9,126.2 627.9,126.1 623.9,126.0 619.9,125.8 615.9,125.7 611.9,125.6 607.9,125.5 603.9,125.4 599.9,125.2 595.9,125.1 591.8,125.0 587.8,124.9 583.8,124.8 579.8,124.7 575.8,124.6 571.8,124.5 567.8,124.4 563.8,124.3 559.8,124.3 555.8,124.2 551.8,124.1 547.8,124.0 543.8,123.9 539.8,123.8 535.8,123.7 531.8,123.7 527.8,123.6 523.8,123.5 519.8,123.4 515.8,123.4 511.8,123.3 507.8,123.2 503.8,123.2 499.8,123.1 495.8,123.0 491.8,123.0 487.8,122.9 483.8,122.9 479.8,122.8 475.8,122.8 471.8,122.7 467.8,122.7 463.8,122.7 459.8,122.7 455.8,122.7 451.8,122.7 447.8,122.7 443.8,122.7 439.8,122.7 435.8,122.7 431.8,122.7 427.8,122.7 423.8,122.7 419.8,122.7 415.7,122.7 411.7,122.7 407.7,122.7 403.7,122.7 399.7,122.7 395.7,122.7 391.7,122.7 387.7,122.7 383.7,122.7 379.7,122.7 375.7,122.7 371.7,122.7 367.7,122.7 363.7,122.7 359.7,122.7 355.7,122.7 351.7,122.8 347.7,122.8 343.7,122.8 339.7,122.8 335.7,122.8 331.7,122.8 327.7,122.8 323.6,122.9 319.6,122.9 315.6,122.9 311.6,122.9 307.6,123.0 303.6,123.0 299.6,123.0 295.6,123.0 291.7,123.1 287.7,123.2 283.7,123.4 279.7,123.7 275.7,124.1 271.7,124.5Z" fill="#ff00ff"/>
<path d="M271.7,120.4 275.1,118.6 278.8,117.2 282.6,116.3 286.5,115.9 290.5,115.7 294.5,115.8 298.5,115.9 302.5,116.2 306.5,116.4 310.5,116.6 314.5,116.8 318.5,117.0 322.5,117.1 326.4,117.3 330.4,117.4 334.4,117.5 338.4,117.6 342.4,117.7 346.4,117.7 350.5,117.7 354.5,117.7 358.5,117.7 362.5,117.7 366.5,117.7 370.5,117.7 374.5,117.7 378.5,117.7 382.5,117.7 386.5,117.7 390.5,117.7 394.5,117.7 398.5,117.7 402.5,117.7 406.5,117.7 410.5,117.7 414.5,117.7 418.5,117.7 422.5,117.7 426.5,117.7 430.5,117.7 434.5,117.7 438.5,117.7 442.5,117.7 446.5,117.7 450.5,117.7 454.5,117.7 458.5,117.7 462.5,117.7 466.5,117.7 470.5,117.7 474.5,117.8 478.5,117.8 482.5,117.8 486.5,117.8 490.5,117.8 494.5,117.8 498.5,117.8 502.5,117.8 506.5,117.8 510.5,117.9 514.5,117.9 518.5,117.9 522.5,118.0 526.5,118.0 530.5,118.1 534.5,118.2 538.5,118.2 542.5,118.3 546.5,118.4 550.5,118.5 554.5,118.5 558.5,118.6 562.5,118.7 566.5,118.8 570.5,118.9 574.5,119.0 578.5,119.1 582.5,119.2 586.5,119.3 590.5,119.4 594.5,119.5 598.5,119.6 602.5,119.7 606.5,119.8 610.5,120.0 614.5,120.1 618.5,120.2 622.5,120.3 626.5,120.5 630.5,120.6 634.5,120.8 638.5,120.9 642.5,121.1 646.5,121.2 650.5,121.4 654.5,121.6 658.5,121.7 662.5,121.9 666.5,122.0 670.5,122.2 674.5,122.4 678.5,122.5 682.5,122.7 686.5,122.8 690.5,123.0 694.5,123.2 698.4,123.3 702.4,123.5 706.4,123.7 710.4,123.9 714.4,124.1 718.4,124.3 722.4,124.5 726.4,124.7 730.4,124.9 734.4,125.2 738.4,125.4 742.4,125.7 746.4,126.1 750.4,126.4 754.3,126.9 758.3,127.3 762.3,127.8 766.2,128.4 770.2,129.1 774.1,129.8 778.0,130.6 781.9,131.6 785.7,132.7 789.4,134.0 793.2,135.4 797.0,136.8 800.7,138.3 804.4,139.7 808.2,141.1 811.9,142.6 815.6,144.0 819.4,145.5 823.1,146.9 826.8,148.4 830.5,149.9 834.2,151.4 838.0,152.8 841.7,154.2 845.5,155.6 849.3,157.0 853.0,158.3 856.8,159.7 860.5,161.2 864.1,162.7 867.8,164.4 871.4,166.0 875.1,167.7 878.7,169.4 882.3,171.0 885.9,172.8 889.5,174.5 893.1,176.3 896.6,178.2 900.2,180.1 903.6,182.0 907.1,184.0 910.4,186.1 913.7,188.3 916.9,190.6 920.1,193.1 923.2,195.6 926.2,198.2 929.2,200.8 932.2,203.4 937.2,208.6 939.9,211.5 942.5,214.5 945.0,217.6 947.4,220.7 949.7,224.0 951.9,227.3 954.1,230.6 956.2,234.0 958.3,237.4 960.4,240.8 962.5,244.2 964.6,247.6 966.4,251.1 968.1,254.7 969.7,258.4 971.1,262.1 972.4,265.9 973.8,269.7 975.1,273.4 976.3,277.2 977.6,281.0 978.7,284.9 979.8,288.7 981.0,292.5 982.1,296.4 983.3,300.2 984.3,304.1 985.2,308.0 986.2,311.8 987.1,315.7 988.2,319.6 989.2,323.5 990.3,327.3 991.5,331.1 992.6,335.0 993.7,338.8 994.8,342.7 995.9,346.5 997.0,350.4 998.0,354.2 998.9,358.1 999.7,362.0 1000.4,366.0 1001.1,369.9 1001.7,373.9 1002.3,377.8 1002.9,381.8 1003.6,385.7 1004.3,389.7 1005.0,393.6 1005.7,397.5 1006.4,401.5 1007.1,405.4 1007.8,409.4 1008.5,413.3 1009.2,417.3 1009.8,421.2 1010.4,425.2 1011.0,429.1 1011.6,433.1 1012.2,437.0 1012.7,441.0 1013.3,445.0 1013.8,448.9 1014.4,452.9 1014.9,456.8 1015.5,460.8 1016.0,464.8 1016.5,468.7 1017.0,472.7 1017.6,476.7 1018.1,480.6 1018.6,484.6 1019.1,488.6 1019.6,492.5 1020.1,496.5 1020.6,500.5 1021.1,504.5 1021.6,508.4 1022.1,512.4 1022.6,516.4 1023.2,520.3 1023.7,524.3 1024.2,528.3 1024.8,532.2 1025.3,536.2 1025.8,540.2 1026.4,544.1 1026.9,548.1 1027.5,552.0 1028.0,556.0 1028.6,560.0 1029.1,563.9 1029.6,567.9 1030.1,571.9 1030.6,575.8 1031.1,579.8 1031.5,583.8 1032.0,587.8 1032.4,591.7 1032.8,595.7 1033.2,599.7 1033.6,603.7 1034.0,607.7 1034.3,611.7 1034.7,615.6 1035.1,619.6 1035.5,623.6 1035.9,627.6 1036.3,631.6 1036.7,635.6 1037.1,639.5 1037.4,643.5 1037.8,647.5 1038.2,651.5 1038.6,655.5 1039.0,659.4 1039.4,663.4 1039.8,667.4 1040.2,671.4 1040.6,675.4 1041.0,679.3 1041.4,683.3 1041.8,687.3 1042.2,691.3 1042.6,695.3 1043.0,699.3 1043.3,703.2 1043.7,707.2 1044.1,711.2 1044.5,715.2 1044.8,719.2 1045.2,723.2 1045.6,727.1 1045.9,731.1 1046.3,735.1 1046.6,739.1 1047.0,743.1 1047.4,747.1 1047.7,751.1 1048.1,755.0 1048.4,759.0 1048.8,763.0 1049.1,767.0 1049.5,771.0 1049.8,775.0 1050.2,779.0 1050.5,782.9 1050.8,786.9 1051.2,790.9 1051.6,794.9 1051.9,798.9 1052.3,802.9 1052.7,806.8 1053.1,810.8 1053.5,814.8 1053.9,818.8 1054.3,822.8 1054.7,826.7 1055.1,830.7 1055.5,834.7 1055.9,838.7 1056.3,842.7 1056.8,846.6 1057.2,850.6 1057.6,854.6 1058.0,858.6 1058.5,862.6 1058.9,866.5 1059.3,870.5 1059.8,874.5 1060.2,878.5 1060.6,882.4 1061.0,886.4 1061.5,890.4 1061.9,894.4 1062.3,898.4 1062.7,902.3 1063.2,906.3 1063.6,910.3 1064.1,914.3 1064.5,918.2 1065.0,922.2 1065.5,926.2 1066.0,930.2 1066.5,934.1 1067.0,938.1 1067.6,942.0 1068.3,946.0 1068.9,949.9 1069.5,953.9 1070.0,957.9 1070.6,961.8 1071.3,965.8 1072.1,969.7 1072.9,973.6 1073.7,977.5 1074.4,981.5 1075.0,985.4 1075.7,989.4 1076.3,993.3 1077.0,997.2 1078.0,1001.1 1079.3,1004.9 1080.8,1008.6 1082.6,1012.2 1084.7,1015.6 1087.2,1018.8 1088.0,1019.3 1091.0,1022.0 1094.4,1024.3 1097.9,1026.2 1101.7,1027.7 1105.5,1029.0 1109.3,1030.1 1113.2,1031.1 1117.1,1032.0 1121.0,1032.9 1125.0,1033.7 1128.9,1034.4 1132.8,1035.1 1136.8,1035.8 1140.7,1036.4 1144.7,1037.1 1148.6,1037.9 1152.5,1038.7 1156.4,1039.5 1160.4,1040.3 1164.3,1041.0 1168.2,1041.8 1172.1,1042.6 1176.0,1043.5 1179.9,1044.4 1183.8,1045.3 1187.7,1046.4 1191.5,1047.5 1195.3,1048.7 1199.1,1049.9 1202.8,1051.3 1206.6,1052.7 1210.3,1054.2 1213.9,1055.8 1217.6,1057.4 1221.2,1059.1 1224.9,1060.8 1228.5,1062.4 1232.2,1064.1 1235.8,1065.7 1239.4,1067.4 1243.1,1069.0 1246.7,1070.7 1250.4,1072.3 1254.0,1074.0 1257.7,1075.6 1261.3,1077.2 1265.0,1078.9 1268.6,1080.5 1272.2,1082.2 1275.8,1083.9 1279.4,1085.7 1283.0,1087.5 1286.5,1089.4 1290.1,1091.2 1293.7,1093.0 1297.2,1094.8 1300.7,1096.8 1304.1,1098.8 1307.6,1100.8 1311.1,1102.7 1314.7,1104.5 1318.3,1106.3 1321.9,1108.0 1325.6,1109.7 1329.3,1111.3 1333.0,1112.9 1336.7,1114.3 1340.5,1115.6 1344.4,1116.7 1348.2,1117.7 1352.2,1118.5 1356.1,1119.3 1360.0,1119.9 1364.0,1120.4 1368.0,1120.8 1372.0,1121.2 1376.0,1121.5 1380.0,1121.7 1384.0,1121.9 1388.0,1122.1 1392.0,1122.3 1396.0,1122.5 1400.0,1122.6 1404.0,1122.8 1408.0,1122.9 1412.0,1123.0 1416.0,1123.2 1420.0,1123.3 1424.0,1123.4 1427.9,1123.5 1431.9,1123.6 1435.9,1123.7 1439.9,1123.8 1443.9,1124.0 1447.9,1124.1 1451.9,1124.2 1455.9,1124.3 1459.9,1124.4 1463.9,1124.5 1467.9,1124.5 1471.9,1124.6 1475.9,1124.7 1479.9,1124.8 1483.9,1124.8 1487.9,1124.9 1491.9,1125.0 1495.9,1125.0 1499.9,1125.1 1504.0,1125.1 1508.0,1125.2 1512.0,1125.3 1516.0,1125.3 1520.0,1125.4 1524.0,1125.4 1528.0,1125.5 1532.0,1125.5 1536.0,1125.5 1540.0,1125.6 1544.0,1125.6 1548.0,1125.7 1552.0,1125.7 1556.0,1125.7 1560.0,1125.8 1564.0,1125.8 1568.0,1125.9 1572.0,1125.9 1576.0,1126.0 1580.0,1126.0 1584.0,1126.1 1588.0,1126.2 1592.0,1126.2 1596.0,1126.3 1600.0,1126.4 1604.0,1126.5 1608.0,1126.5 1612.0,1126.6 1616.0,1126.7 1620.0,1126.8 1624.0,1126.9 1628.0,1127.0 1632.0,1127.0 1636.0,1127.1 1640.0,1127.2 1644.0,1127.3 1648.0,1127.4 1652.0,1127.4 1656.0,1127.5 1660.0,1127.6 1664.0,1127.6 1668.0,1127.7 1672.0,1127.8 1676.0,1127.9 1680.0,1127.9 1684.0,1128.0 1688.0,1128.1 1692.0,1128.2 1696.0,1128.2 1700.0,1128.3 1704.0,1128.4 1708.0,1128.4 1712.0,1128.5 1716.0,1128.6 1720.0,1128.6 1724.0,1128.7 1728.0,1128.7 1732.0,1128.8 1736.0,1128.8 1740.0,1128.9 1744.0,1129.0 1748.0,1129.0 1752.0,1129.1 1756.0,1129.1 1760.0,1129.2 1764.0,1129.2 1768.0,1129.2 1772.0,1129.3 1776.0,1129.3 1780.0,1129.4 1784.0,1129.4 1788.0,1129.4 1792.0,1129.5 1796.0,1129.5 1800.0,1129.5 1804.0,1129.6 1808.0,1129.6 1812.0,1129.6 1816.0,1129.6 1820.0,1129.7 1824.0,1129.7 1828.0,1129.7 1832.0,1129.7 1836.0,1129.8 1840.0,1129.8 1844.0,1129.8 1844.0,1132.8 1840.0,1132.8 1836.0,1132.8 1832.0,1132.8 1828.0,1132.7 1824.0,1132.7 1820.0,1132.7 1816.0,1132.7 1812.0,1132.6 1808.0,1132.6 1804.0,1132.6 1800.0,1132.5 1796.0,1132.5 1792.0,1132.5 1788.0,1132.4 1784.0,1132.4 1780.0,1132.4 1776.0,1132.3 1772.0,1132.3 1768.0,1132.3 1764.0,1132.2 1760.0,1132.2 1756.0,1132.1 1752.0,1132.1 1748.0,1132.0 1744.0,1132.0 1740.0,1131.9 1736.0,1131.9 1732.0,1131.8 1728.0,1131.8 1724.0,1131.7 1720.0,1131.6 1716.0,1131.6 1712.0,1131.5 1708.0,1131.5 1704.0,1131.4 1700.0,1131.3 1696.0,1131.3 1692.0,1131.2 1688.0,1131.1 1684.0,1131.1 1680.0,1131.0 1676.0,1130.9 1672.0,1130.8 1668.0,1130.8 1664.0,1130.7 1660.0,1130.6 1656.0,1130.5 1652.0,1130.5 1648.0,1130.4 1644.0,1130.3 1640.0,1130.2 1636.0,1130.2 1632.0,1130.1 1628.0,1130.0 1624.0,1129.9 1620.0,1129.8 1616.0,1129.7 1612.0,1129.7 1608.0,1129.6 1604.0,1129.5 1600.0,1129.4 1596.0,1129.3 1592.0,1129.3 1588.0,1129.2 1584.0,1129.1 1580.0,1129.1 1576.0,1129.0 1572.0,1128.9 1568.0,1128.9 1564.0,1128.8 1560.0,1128.8 1556.0,1128.8 1552.0,1128.7 1548.0,1128.7 1544.0,1128.6 1540.0,1128.6 1536.0,1128.6 1532.0,1128.5 1528.0,1128.5 1524.0,1128.4 1520.0,1128.4 1516.0,1128.3 1512.0,1128.3 1508.0,1128.2 1504.0,1128.2 1499.9,1128.1 1495.9,1128.1 1491.9,1128.0 1487.9,1127.9 1483.9,1127.9 1479.9,1127.8 1475.9,1127.7 1471.9,1127.7 1467.9,1127.6 1463.9,1127.5 1459.9,1127.4 1455.9,1127.3 1451.9,1127.2 1447.9,1127.1 1443.9,1127.0 1439.9,1126.9 1435.9,1126.8 1431.9,1126.7 1427.9,1126.6 1424.0,1126.4 1420.0,1126.3 1416.0,1126.2 1412.0,1126.1 1408.0,1126.0 1404.0,1125.8 1400.0,1125.7 1396.0,1125.5 1392.0,1125.4 1388.0,1125.2 1384.0,1125.0 1380.0,1124.8 1376.0,1124.6 1372.0,1124.3 1368.0,1124.0 1364.0,1123.6 1360.0,1123.1 1356.1,1122.6 1352.2,1121.9 1348.2,1121.1 1344.4,1120.2 1340.5,1119.2 1336.7,1118.0 1333.0,1116.6 1329.3,1115.2 1325.6,1113.6 1321.9,1111.9 1318.3,1110.2 1314.7,1108.5 1311.1,1106.7 1307.6,1104.9 1304.1,1102.9 1300.7,1100.9 1297.2,1098.9 1293.7,1097.0 1290.1,1095.2 1286.5,1093.4 1283.0,1091.6 1279.4,1089.7 1275.8,1087.9 1272.2,1086.2 1268.6,1084.4 1265.0,1082.8 1261.3,1081.1 1257.7,1079.5 1254.0,1077.9 1250.4,1076.2 1246.7,1074.6 1243.1,1072.9 1239.4,1071.3 1235.8,1069.6 1232.2,1068.0 1228.5,1066.3 1224.9,1064.7 1221.2,1063.0 1217.6,1061.4 1213.9,1059.7 1210.3,1058.1 1206.6,1056.5 1202.8,1055.1 1199.1,1053.7 1195.3,1052.3 1191.5,1051.1 1187.7,1049.9 1183.8,1048.9 1179.9,1047.9 1176.0,1046.9 1172.1,1046.1 1168.2,1045.2 1164.3,1044.4 1160.4,1043.7 1156.4,1042.9 1152.5,1042.1 1148.6,1041.3 1144.7,1040.5 1140.7,1039.8 1136.8,1039.1 1132.8,1038.4 1128.9,1037.7 1125.0,1037.0 1121.0,1036.3 1117.1,1035.5 1113.2,1034.6 1109.3,1033.7 1105.5,1032.6 1101.7,1031.5 1097.9,1030.1 1094.4,1028.4 1091.0,1026.4 1088.0,1024.2 1083.3,1018.8 1081.1,1015.6 1079.2,1012.2 1077.5,1008.6 1076.1,1004.9 1074.9,1001.1 1074.0,997.2 1073.3,993.3 1072.6,989.4 1072.0,985.4 1071.4,981.5 1070.7,977.5 1069.9,973.6 1069.1,969.7 1068.3,965.8 1067.6,961.8 1067.0,957.9 1066.5,953.9 1065.9,949.9 1065.3,946.0 1064.6,942.0 1064.0,938.1 1063.5,934.1 1062.9,930.2 1062.5,926.2 1062.0,922.2 1061.5,918.2 1061.1,914.3 1060.6,910.3 1060.2,906.3 1059.7,902.3 1059.3,898.4 1058.9,894.4 1058.5,890.4 1058.0,886.4 1057.6,882.4 1057.2,878.5 1056.8,874.5 1056.3,870.5 1055.9,866.5 1055.5,862.6 1055.0,858.6 1054.6,854.6 1054.2,850.6 1053.7,846.6 1053.3,842.7 1052.9,838.7 1052.5,834.7 1052.1,830.7 1051.7,826.7 1051.3,822.8 1050.9,818.8 1050.5,814.8 1050.1,810.8 1049.7,806.8 1049.3,802.9 1048.9,798.9 1048.5,794.9 1048.2,790.9 1047.8,786.9 1047.5,782.9 1047.1,779.0 1046.8,775.0 1046.5,771.0 1046.1,767.0 1045.8,763.0 1045.4,759.0 1045.1,755.0 1044.7,751.1 1044.3,747.1 1044.0,743.1 1043.6,739.1 1043.3,735.1 1042.9,731.1 1042.5,727.1 1042.2,723.2 1041.8,719.2 1041.5,715.2 1041.1,711.2 1040.7,707.2 1040.3,703.2 1040.0,699.3 1039.6,695.3 1039.2,691.3 1038.8,687.3 1038.4,683.3 1038.0,679.3 1037.6,675.4 1037.2,671.4 1036.8,667.4 1036.4,663.4 1036.0,659.4 1035.6,655.5 1035.2,651.5 1034.8,647.5 1034.4,643.5 1034.0,639.5 1033.7,635.6 1033.3,631.6 1032.9,627.6 1032.5,623.6 1032.1,619.6 1031.7,615.6 1031.3,611.7 1030.9,607.7 1030.6,603.7 1030.2,599.7 1029.8,595.7 1029.4,591.7 1029.0,587.8 1028.5,583.8 1028.1,579.8 1027.6,575.8 1027.1,571.9 1026.6,567.9 1026.1,563.9 1025.5,560.0 1025.0,556.0 1024.4,552.0 1023.9,548.1 1023.4,544.1 1022.8,540.2 1022.3,536.2 1021.7,532.2 1021.2,528.3 1020.7,524.3 1020.1,520.3 1019.6,516.4 1019.1,512.4 1018.6,508.4 1018.1,504.5 1017.6,500.5 1017.1,496.5 1016.6,492.5 1016.1,488.6 1015.6,484.6 1015.1,480.6 1014.5,476.7 1014.0,472.7 1013.5,468.7 1013.0,464.8 1012.4,460.8 1011.9,456.8 1011.4,452.9 1010.8,448.9 1010.3,445.0 1009.7,441.0 1009.2,437.0 1008.6,433.1 1008.0,429.1 1007.4,425.2 1006.8,421.2 1006.1,417.3 1005.5,413.3 1004.8,409.4 1004.1,405.4 1003.4,401.5 1002.7,397.5 1002.0,393.6 1001.3,389.7 1000.6,385.7 999.9,381.8 999.3,377.8 998.7,373.9 998.0,369.9 997.4,366.0 996.7,362.0 995.8,358.1 994.9,354.2 993.9,350.4 992.8,346.5 991.7,342.7 990.6,338.8 989.5,335.0 988.3,331.1 987.2,327.3 986.1,323.5 985.1,319.6 984.1,315.7 983.1,311.8 982.2,308.0 981.2,304.1 980.1,300.2 979.0,296.4 977.9,292.5 976.7,288.7 975.6,284.9 974.4,281.0 973.2,277.2 971.9,273.4 970.6,269.7 969.3,265.9 967.9,262.1 966.5,258.4 964.9,254.7 963.1,251.1 961.1,247.6 959.0,244.2 956.9,240.8 954.8,237.4 952.7,234.0 950.5,230.6 948.3,227.3 946.0,224.0 943.6,220.7 941.1,217.6 938.5,214.5 935.8,211.5 932.9,208.6 932.2,208.3 929.2,205.6 926.2,202.9 923.2,200.3 920.1,197.7 916.9,195.2 913.7,192.7 910.4,190.4 907.1,188.2 903.6,186.1 900.2,184.2 896.6,182.2 893.1,180.4 889.5,178.5 885.9,176.7 882.3,175.0 878.7,173.3 875.1,171.6 871.4,170.0 867.8,168.3 864.1,166.6 860.5,165.0 856.8,163.5 853.0,162.0 849.3,160.7 845.5,159.3 841.7,158.0 838.0,156.6 834.2,155.2 830.5,153.7 826.8,152.2 823.1,150.7 819.4,149.3 815.6,147.8 811.9,146.3 808.2,144.9 804.4,143.5 800.7,142.0 797.0,140.6 793.2,139.2 789.4,137.7 785.7,136.4 781.9,135.2 778.0,134.1 774.1,133.2 770.2,132.4 766.2,131.7 762.3,131.1 758.3,130.6 754.3,130.1 750.4,129.6 746.4,129.2 742.4,128.9 738.4,128.6 734.4,128.3 730.4,128.0 726.4,127.8 722.4,127.6 718.4,127.4 714.4,127.2 710.4,127.0 706.4,126.8 702.4,126.6 698.4,126.4 694.5,126.3 690.5,126.1 686.5,125.9 682.5,125.8 678.5,125.6 674.5,125.4 670.5,125.3 666.5,125.1 662.5,125.0 658.5,124.8 654.5,124.6 650.5,124.5 646.5,124.3 642.5,124.2 638.5,124.0 634.5,123.8 630.5,123.7 626.5,123.5 622.5,123.4 618.5,123.3 614.5,123.1 610.5,123.0 606.5,122.9 602.5,122.8 598.5,122.7 594.5,122.5 590.5,122.4 586.5,122.3 582.5,122.2 578.5,122.1 574.5,122.0 570.5,121.9 566.5,121.8 562.5,121.7 558.5,121.6 554.5,121.6 550.5,121.5 546.5,121.4 542.5,121.3 538.5,121.3 534.5,121.2 530.5,121.1 526.5,121.1 522.5,121.0 518.5,121.0 514.5,120.9 510.5,120.9 506.5,120.8 502.5,120.8 498.5,120.8 494.5,120.8 490.5,120.8 486.5,120.8 482.5,120.8 478.5,120.8 474.5,120.8 470.5,120.8 466.5,120.7 462.5,120.7 458.5,120.7 454.5,120.7 450.5,120.7 446.5,120.7 442.5,120.7 438.5,120.7 434.5,120.7 430.5,120.7 426.5,120.7 422.5,120.7 418.5,120.7 414.5,120.7 410.5,120.7 406.5,120.7 402.5,120.7 398.5,120.7 394.5,120.7 390.5,120.7 386.5,120.7 382.5,120.7 378.5,120.7 374.5,120.7 370.5,120.7 366.5,120.7 362.5,120.7 358.5,120.7 354.5,120.7 350.5,120.7 346.4,120.7 342.4,120.7 338.4,120.7 334.4,120.6 330.4,120.5 326.4,120.4 322.5,120.2 318.5,120.1 314.5,119.9 310.5,119.7 306.5,119.5 302.5,119.3 298.5,119.0 294.5,118.8 290.5,118.8 286.5,119.1 282.6,119.7 278.8,120.9 275.1,122.6 271.7,124.6Z" fill="#ff0000"/>
<path d="M271.7,119.5 275.2,118.1 278.9,117.2 282.8,116.9 286.7,116.8 290.8,116.8 294.8,116.7 298.8,116.7 302.8,116.7 306.8,116.7 310.9,116.6 314.9,116.6 318.9,116.6 322.9,116.6 326.9,116.6 330.9,116.6 334.9,116.5 338.9,116.5 342.9,116.5 346.9,116.4 350.9,116.4 354.9,116.4 358.9,116.3 362.9,116.2 366.9,116.2 370.9,116.1 374.9,116.0 378.9,116.0 382.9,115.9 386.9,115.8 390.9,115.7 394.9,115.7 398.9,115.6 402.9,115.5 406.9,115.5 410.9,115.4 414.9,115.3 418.9,115.3 422.9,115.2 426.9,115.1 430.9,115.0 434.9,115.0 438.9,114.9 442.9,114.9 446.9,114.8 450.9,114.8 455.0,114.7 459.0,114.7 463.0,114.7 467.0,114.7 471.0,114.7 475.0,114.7 479.0,114.7 483.0,114.8 487.0,114.8 491.0,114.8 495.0,114.8 499.0,114.8 503.0,114.9 507.0,114.9 511.0,114.9 515.0,115.0 519.0,115.0 523.0,115.0 527.0,115.0 531.0,115.1 535.0,115.1 539.0,115.1 543.0,115.2 547.0,115.2 551.0,115.2 555.0,115.3 559.0,115.3 563.0,115.3 567.0,115.3 571.0,115.4 575.0,115.4 579.0,115.4 583.1,115.4 587.1,115.5 591.1,115.5 595.1,115.5 599.1,115.5 603.1,115.6 607.1,115.6 611.1,115.6 615.1,115.7 619.1,115.7 623.1,115.8 627.1,115.9 631.1,116.0 635.1,116.1 639.1,116.3 643.1,116.4 647.1,116.5 651.1,116.7 655.1,116.8 659.1,117.0 663.1,117.1 667.1,117.3 671.1,117.4 675.1,117.6 679.1,117.7 683.1,117.9 687.1,118.0 691.1,118.2 695.1,118.3 699.1,118.5 703.1,118.7 707.1,118.9 711.1,119.1 715.1,119.3 719.1,119.5 723.1,119.6 727.1,119.7 731.1,119.8 735.1,119.9 739.1,120.1 743.1,120.2 747.1,120.4 751.1,120.7 755.1,121.0 759.1,121.3 763.1,121.5 767.1,121.8 771.0,122.1 775.0,122.4 779.0,122.8 783.0,123.2 787.0,123.6 790.9,124.1 794.9,124.7 798.9,125.2 802.8,125.8 806.8,126.4 810.8,127.0 814.7,127.6 818.7,128.2 822.6,128.9 826.5,129.7 830.4,130.5 834.4,131.3 838.3,132.2 842.2,132.9 846.1,133.7 850.1,134.4 854.0,135.1 857.9,135.9 861.9,136.7 865.7,137.6 869.6,138.6 873.5,139.5 877.4,140.5 881.3,141.5 885.1,142.6 889.0,143.6 892.8,144.7 896.7,145.8 900.5,147.0 904.4,148.1 908.2,149.3 912.0,150.5 915.8,151.8 919.5,153.2 923.2,154.6 926.9,156.2 930.5,157.9 934.0,159.8 937.4,161.8 940.6,164.0 943.8,166.4 946.8,169.0 951.7,174.2 954.3,177.2 956.8,180.3 959.2,183.4 961.5,186.7 963.7,190.0 965.8,193.4 967.8,196.8 969.7,200.3 971.4,203.9 973.0,207.6 974.5,211.3 976.1,215.0 977.8,218.6 979.6,222.2 981.4,225.8 983.0,229.4 984.6,233.0 986.0,236.8 987.2,240.6 988.5,244.4 989.6,248.2 990.8,252.1 991.9,255.9 992.9,259.8 993.9,263.6 995.0,267.5 996.0,271.4 997.1,275.2 998.1,279.1 999.1,283.0 1000.0,286.9 1000.9,290.8 1001.8,294.7 1002.6,298.6 1003.4,302.5 1004.1,306.5 1004.9,310.4 1005.6,314.3 1006.4,318.3 1007.1,322.2 1007.8,326.1 1008.4,330.1 1009.0,334.0 1009.6,338.0 1010.3,342.0 1010.9,345.9 1011.6,349.9 1012.2,353.8 1012.9,357.8 1013.5,361.7 1014.1,365.7 1014.7,369.6 1015.3,373.6 1015.9,377.6 1016.4,381.5 1017.0,385.5 1017.5,389.5 1018.0,393.4 1018.5,397.4 1019.0,401.4 1019.4,405.3 1019.9,409.3 1020.4,413.3 1020.8,417.3 1021.3,421.2 1021.7,425.2 1022.2,429.2 1022.6,433.2 1023.1,437.2 1023.5,441.1 1023.9,445.1 1024.4,449.1 1024.8,453.1 1025.2,457.1 1025.6,461.0 1026.1,465.0 1026.5,469.0 1026.9,473.0 1027.4,477.0 1027.8,480.9 1028.3,484.9 1028.7,488.9 1029.2,492.9 1029.6,496.9 1030.0,500.8 1030.4,504.8 1030.8,508.8 1031.2,512.8 1031.6,516.8 1032.0,520.7 1032.5,524.7 1032.9,528.7 1033.4,532.7 1033.8,536.7 1034.3,540.6 1034.7,544.6 1035.1,548.6 1035.5,552.6 1035.9,556.6 1036.3,560.6 1036.6,564.5 1037.0,568.5 1037.4,572.5 1037.8,576.5 1038.2,580.5 1038.6,584.5 1039.0,588.4 1039.4,592.4 1039.8,596.4 1040.2,600.4 1040.6,604.4 1041.0,608.4 1041.4,612.3 1041.8,616.3 1042.2,620.3 1042.6,624.3 1042.9,628.3 1043.3,632.3 1043.6,636.3 1043.9,640.2 1044.2,644.2 1044.5,648.2 1044.8,652.2 1045.2,656.2 1045.5,660.2 1045.8,664.2 1046.1,668.2 1046.5,672.2 1046.9,676.2 1047.2,680.1 1047.6,684.1 1048.0,688.1 1048.4,692.1 1048.8,696.1 1049.2,700.1 1049.5,704.1 1049.9,708.0 1050.2,712.0 1050.6,716.0 1051.0,720.0 1051.3,724.0 1051.7,728.0 1052.0,732.0 1052.3,736.0 1052.7,739.9 1053.0,743.9 1053.3,747.9 1053.7,751.9 1054.0,755.9 1054.4,759.9 1054.8,763.9 1055.2,767.8 1055.6,771.8 1056.1,775.8 1056.5,779.8 1056.9,783.8 1057.4,787.7 1057.8,791.7 1058.3,795.7 1058.7,799.7 1059.1,803.7 1059.5,807.6 1059.9,811.6 1060.3,815.6 1060.7,819.6 1061.1,823.6 1061.5,827.6 1061.9,831.5 1062.3,835.5 1062.7,839.5 1063.1,843.5 1063.5,847.5 1064.0,851.5 1064.4,855.4 1064.8,859.4 1065.3,863.4 1065.7,867.4 1066.2,871.4 1066.6,875.3 1067.1,879.3 1067.6,883.3 1068.1,887.2 1068.7,891.2 1069.2,895.2 1069.8,899.1 1070.4,903.1 1070.9,907.1 1071.5,911.0 1072.1,915.0 1072.7,918.9 1073.3,922.9 1073.9,926.9 1074.5,930.8 1075.1,934.8 1075.6,938.7 1076.2,942.7 1076.7,946.7 1077.4,950.6 1078.1,954.6 1078.8,958.5 1079.5,962.4 1080.2,966.4 1080.8,970.3 1081.4,974.3 1082.2,978.2 1083.1,982.1 1084.1,986.0 1085.1,989.9 1086.3,993.7 1087.5,997.5 1088.7,1001.3 1090.1,1005.1 1091.5,1008.8 1093.1,1012.5 1094.9,1016.1 1097.0,1019.6 1099.5,1022.8 1100.2,1023.3 1103.2,1026.1 1106.4,1028.6 1109.9,1030.7 1113.4,1032.5 1117.1,1034.1 1120.9,1035.6 1124.7,1036.8 1128.5,1038.0 1132.4,1039.2 1136.3,1040.2 1140.1,1041.2 1144.0,1042.2 1147.9,1043.1 1151.8,1044.0 1155.7,1044.9 1159.7,1045.7 1163.6,1046.5 1167.5,1047.3 1171.4,1048.0 1175.4,1048.8 1179.3,1049.7 1183.2,1050.5 1187.1,1051.3 1191.0,1052.1 1195.0,1052.7 1199.0,1053.3 1202.9,1053.8 1206.9,1054.3 1210.9,1054.8 1214.9,1055.2 1218.8,1055.7 1222.8,1056.2 1226.8,1056.8 1230.7,1057.4 1234.7,1058.0 1238.6,1058.5 1242.6,1059.1 1246.6,1059.7 1250.5,1060.3 1254.5,1060.9 1258.4,1061.6 1262.3,1062.3 1266.3,1063.1 1270.2,1064.0 1274.1,1064.9 1278.0,1065.8 1281.9,1066.7 1285.8,1067.5 1289.7,1068.4 1293.6,1069.2 1297.6,1069.9 1301.5,1070.7 1305.4,1071.6 1309.3,1072.5 1313.2,1073.4 1317.1,1074.4 1320.9,1075.3 1324.8,1076.4 1328.6,1077.5 1332.5,1078.6 1336.3,1079.7 1340.1,1080.9 1344.0,1082.1 1347.8,1083.3 1351.6,1084.5 1355.4,1085.7 1359.3,1086.8 1363.1,1088.0 1367.0,1089.1 1370.8,1090.2 1374.7,1091.2 1378.6,1092.2 1382.5,1093.2 1386.4,1094.1 1390.3,1094.9 1394.2,1095.8 1398.1,1096.5 1402.1,1097.2 1406.0,1097.9 1410.0,1098.5 1413.9,1099.1 1417.9,1099.7 1421.9,1100.2 1425.8,1100.7 1429.8,1101.2 1433.8,1101.7 1437.8,1102.1 1441.8,1102.5 1445.7,1102.9 1449.7,1103.2 1453.7,1103.5 1457.7,1103.8 1461.7,1104.0 1465.7,1104.1 1469.7,1104.3 1473.7,1104.4 1477.7,1104.5 1481.7,1104.6 1485.7,1104.7 1489.7,1104.8 1493.7,1104.8 1497.7,1104.9 1501.7,1104.9 1505.7,1105.0 1509.7,1105.0 1513.7,1105.1 1517.7,1105.1 1521.7,1105.1 1525.7,1105.2 1529.7,1105.2 1533.8,1105.2 1537.8,1105.3 1541.8,1105.3 1545.8,1105.3 1549.8,1105.3 1553.8,1105.4 1557.8,1105.4 1561.8,1105.4 1565.8,1105.4 1569.8,1105.4 1573.8,1105.5 1577.8,1105.5 1581.8,1105.5 1585.8,1105.5 1589.8,1105.5 1593.8,1105.5 1597.8,1105.5 1601.8,1105.5 1605.8,1105.5 1609.8,1105.5 1613.8,1105.5 1617.8,1105.5 1621.8,1105.5 1625.8,1105.6 1629.8,1105.6 1633.8,1105.6 1637.8,1105.6 1641.8,1105.6 1645.8,1105.6 1649.8,1105.6 1653.8,1105.6 1657.9,1105.6 1661.9,1105.6 1665.9,1105.6 1669.9,1105.6 1673.9,1105.6 1677.9,1105.6 1681.9,1105.6 1685.9,1105.6 1689.9,1105.6 1693.9,1105.6 1697.9,1105.6 1701.9,1105.6 1705.9,1105.6 1709.9,1105.6 1713.9,1105.6 1717.9,1105.7 1721.9,1105.7 1725.9,1105.7 1729.9,1105.7 1733.9,1105.7 1737.9,1105.7 1741.9,1105.7 1745.9,1105.7 1749.9,1105.7 1753.9,1105.7 1757.9,1105.7 1761.9,1105.7 1765.9,1105.7 1769.9,1105.7 1773.9,1105.7 1777.9,1105.7 1782.0,1105.7 1786.0,1105.7 1790.0,1105.7 1794.0,1105.7 1798.0,1105.7 1802.0,1105.7 1806.0,1105.7 1810.0,1105.7 1814.0,1105.7 1818.0,1105.7 1822.0,1105.7 1826.0,1105.7 1830.0,1105.7 1834.0,1105.7 1838.0,1105.7 1842.0,1105.7 1844.0,1105.7 1844.0,1108.7 1842.0,1108.7 1838.0,1108.7 1834.0,1108.7 1830.0,1108.7 1826.0,1108.7 1822.0,1108.7 1818.0,1108.7 1814.0,1108.7 1810.0,1108.7 1806.0,1108.7 1802.0,1108.7 1798.0,1108.7 1794.0,1108.7 1790.0,1108.7 1786.0,1108.7 1782.0,1108.7 1777.9,1108.7 1773.9,1108.7 1769.9,1108.7 1765.9,1108.7 1761.9,1108.7 1757.9,1108.7 1753.9,1108.7 1749.9,1108.7 1745.9,1108.7 1741.9,1108.7 1737.9,1108.7 1733.9,1108.7 1729.9,1108.7 1725.9,1108.7 1721.9,1108.7 1717.9,1108.7 1713.9,1108.6 1709.9,1108.6 1705.9,1108.6 1701.9,1108.6 1697.9,1108.6 1693.9,1108.6 1689.9,1108.6 1685.9,1108.6 1681.9,1108.6 1677.9,1108.6 1673.9,1108.6 1669.9,1108.6 1665.9,1108.6 1661.9,1108.6 1657.9,1108.6 1653.8,1108.6 1649.8,1108.6 1645.8,1108.6 1641.8,1108.6 1637.8,1108.6 1633.8,1108.6 1629.8,1108.6 1625.8,1108.6 1621.8,1108.5 1617.8,1108.5 1613.8,1108.5 1609.8,1108.5 1605.8,1108.5 1601.8,1108.5 1597.8,1108.5 1593.8,1108.5 1589.8,1108.5 1585.8,1108.5 1581.8,1108.5 1577.8,1108.5 1573.8,1108.5 1569.8,1108.5 1565.8,1108.4 1561.8,1108.4 1557.8,1108.4 1553.8,1108.4 1549.8,1108.4 1545.8,1108.3 1541.8,1108.3 1537.8,1108.3 1533.8,1108.3 1529.7,1108.2 1525.7,1108.2 1521.7,1108.2 1517.7,1108.1 1513.7,1108.1 1509.7,1108.1 1505.7,1108.0 1501.7,1108.0 1497.7,1107.9 1493.7,1107.9 1489.7,1107.8 1485.7,1107.8 1481.7,1107.7 1477.7,1107.6 1473.7,1107.5 1469.7,1107.4 1465.7,1107.2 1461.7,1107.0 1457.7,1106.9 1453.7,1106.6 1449.7,1106.4 1445.7,1106.1 1441.8,1105.7 1437.8,1105.3 1433.8,1104.9 1429.8,1104.4 1425.8,1104.0 1421.9,1103.5 1417.9,1102.9 1413.9,1102.4 1410.0,1101.8 1406.0,1101.2 1402.1,1100.6 1398.1,1099.9 1394.2,1099.1 1390.3,1098.4 1386.4,1097.5 1382.5,1096.6 1378.6,1095.7 1374.7,1094.7 1370.8,1093.7 1367.0,1092.6 1363.1,1091.5 1359.3,1090.4 1355.4,1089.3 1351.6,1088.1 1347.8,1086.9 1344.0,1085.7 1340.1,1084.5 1336.3,1083.4 1332.5,1082.2 1328.6,1081.0 1324.8,1079.9 1320.9,1078.9 1317.1,1077.9 1313.2,1076.9 1309.3,1075.9 1305.4,1075.0 1301.5,1074.2 1297.6,1073.3 1293.6,1072.6 1289.7,1071.8 1285.8,1071.0 1281.9,1070.1 1278.0,1069.2 1274.1,1068.3 1270.2,1067.4 1266.3,1066.6 1262.3,1065.7 1258.4,1065.0 1254.5,1064.2 1250.5,1063.6 1246.6,1063.0 1242.6,1062.4 1238.6,1061.8 1234.7,1061.3 1230.7,1060.7 1226.8,1060.1 1222.8,1059.5 1218.8,1059.0 1214.9,1058.5 1210.9,1058.0 1206.9,1057.5 1202.9,1057.1 1199.0,1056.6 1195.0,1056.0 1191.0,1055.4 1187.1,1054.7 1183.2,1053.9 1179.3,1053.1 1175.4,1052.3 1171.4,1051.4 1167.5,1050.7 1163.6,1049.9 1159.7,1049.1 1155.7,1048.3 1151.8,1047.4 1147.9,1046.6 1144.0,1045.6 1140.1,1044.7 1136.3,1043.7 1132.4,1042.7 1128.5,1041.6 1124.7,1040.5 1120.9,1039.2 1117.1,1037.9 1113.4,1036.4 1109.9,1034.8 1106.4,1032.8 1103.2,1030.7 1100.2,1028.3 1095.7,1022.8 1093.5,1019.6 1091.6,1016.1 1089.9,1012.5 1088.3,1008.8 1086.9,1005.1 1085.6,1001.3 1084.3,997.5 1083.1,993.7 1082.0,989.9 1081.0,986.0 1080.0,982.1 1079.1,978.2 1078.4,974.3 1077.7,970.3 1077.1,966.4 1076.5,962.4 1075.8,958.5 1075.0,954.6 1074.3,950.6 1073.7,946.7 1073.1,942.7 1072.6,938.7 1072.0,934.8 1071.4,930.8 1070.8,926.9 1070.2,922.9 1069.7,918.9 1069.1,915.0 1068.5,911.0 1067.9,907.1 1067.3,903.1 1066.8,899.1 1066.2,895.2 1065.7,891.2 1065.1,887.2 1064.6,883.3 1064.1,879.3 1063.6,875.3 1063.1,871.4 1062.7,867.4 1062.2,863.4 1061.8,859.4 1061.4,855.4 1061.0,851.5 1060.5,847.5 1060.1,843.5 1059.7,839.5 1059.3,835.5 1058.9,831.5 1058.5,827.6 1058.1,823.6 1057.7,819.6 1057.3,815.6 1056.9,811.6 1056.5,807.6 1056.1,803.7 1055.7,799.7 1055.2,795.7 1054.8,791.7 1054.4,787.7 1053.9,783.8 1053.5,779.8 1053.0,775.8 1052.6,771.8 1052.2,767.8 1051.8,763.9 1051.4,759.9 1051.0,755.9 1050.7,751.9 1050.3,747.9 1050.0,743.9 1049.6,739.9 1049.3,736.0 1049.0,732.0 1048.6,728.0 1048.3,724.0 1048.0,720.0 1047.6,716.0 1047.2,712.0 1046.9,708.0 1046.5,704.1 1046.1,700.1 1045.8,696.1 1045.4,692.1 1045.0,688.1 1044.6,684.1 1044.2,680.1 1043.9,676.2 1043.5,672.2 1043.1,668.2 1042.8,664.2 1042.5,660.2 1042.1,656.2 1041.8,652.2 1041.5,648.2 1041.2,644.2 1040.9,640.2 1040.6,636.3 1040.3,632.3 1039.9,628.3 1039.6,624.3 1039.2,620.3 1038.8,616.3 1038.4,612.3 1038.0,608.4 1037.6,604.4 1037.2,600.4 1036.8,596.4 1036.4,592.4 1036.0,588.4 1035.6,584.5 1035.2,580.5 1034.8,576.5 1034.4,572.5 1034.0,568.5 1033.6,564.5 1033.3,560.6 1032.9,556.6 1032.5,552.6 1032.1,548.6 1031.7,544.6 1031.2,540.6 1030.8,536.7 1030.4,532.7 1029.9,528.7 1029.5,524.7 1029.0,520.7 1028.6,516.8 1028.2,512.8 1027.8,508.8 1027.4,504.8 1027.0,500.8 1026.6,496.9 1026.2,492.9 1025.7,488.9 1025.3,484.9 1024.8,480.9 1024.4,477.0 1023.9,473.0 1023.5,469.0 1023.0,465.0 1022.6,461.0 1022.2,457.1 1021.8,453.1 1021.3,449.1 1020.9,445.1 1020.5,441.1 1020.0,437.2 1019.6,433.2 1019.2,429.2 1018.7,425.2 1018.3,421.2 1017.8,417.3 1017.3,413.3 1016.9,409.3 1016.4,405.3 1015.9,401.4 1015.4,397.4 1015.0,393.4 1014.4,389.5 1013.9,385.5 1013.4,381.5 1012.8,377.6 1012.3,373.6 1011.7,369.6 1011.1,365.7 1010.5,361.7 1009.8,357.8 1009.2,353.8 1008.5,349.9 1007.9,345.9 1007.2,342.0 1006.6,338.0 1006.0,334.0 1005.4,330.1 1004.7,326.1 1004.1,322.2 1003.3,318.3 1002.6,314.3 1001.8,310.4 1001.1,306.5 1000.3,302.5 999.5,298.6 998.7,294.7 997.9,290.8 997.0,286.9 996.0,283.0 995.0,279.1 994.0,275.2 992.9,271.4 991.9,267.5 990.9,263.6 989.8,259.8 988.7,255.9 987.7,252.1 986.5,248.2 985.3,244.4 984.1,240.6 982.8,236.8 981.4,233.0 979.8,229.4 978.0,225.8 976.2,222.2 974.5,218.6 972.9,215.0 971.3,211.3 969.8,207.6 968.1,203.9 966.3,200.3 964.4,196.8 962.3,193.4 960.1,190.0 957.8,186.7 955.4,183.4 952.9,180.3 950.3,177.2 947.5,174.2 946.8,173.9 943.8,171.1 940.6,168.6 937.4,166.1 934.0,163.9 930.5,161.9 926.9,160.1 923.2,158.5 919.5,157.0 915.8,155.5 912.0,154.2 908.2,152.9 904.4,151.7 900.5,150.6 896.7,149.4 892.8,148.3 889.0,147.2 885.1,146.1 881.3,145.0 877.4,144.0 873.5,143.0 869.6,142.1 865.7,141.1 861.9,140.2 857.9,139.3 854.0,138.5 850.1,137.8 846.1,137.0 842.2,136.3 838.3,135.6 834.4,134.8 830.4,133.9 826.5,133.1 822.6,132.3 818.7,131.6 814.7,130.9 810.8,130.3 806.8,129.7 802.8,129.1 798.9,128.5 794.9,128.0 790.9,127.4 787.0,126.9 783.0,126.4 779.0,126.0 775.0,125.6 771.0,125.3 767.1,125.0 763.1,124.7 759.1,124.4 755.1,124.1 751.1,123.8 747.1,123.6 743.1,123.3 739.1,123.1 735.1,123.0 731.1,122.9 727.1,122.8 723.1,122.7 719.1,122.6 715.1,122.4 711.1,122.2 707.1,122.0 703.1,121.8 699.1,121.6 695.1,121.4 691.1,121.3 687.1,121.1 683.1,120.9 679.1,120.8 675.1,120.6 671.1,120.5 667.1,120.3 663.1,120.2 659.1,120.1 655.1,119.9 651.1,119.8 647.1,119.6 643.1,119.5 639.1,119.3 635.1,119.2 631.1,119.1 627.1,118.9 623.1,118.8 619.1,118.8 615.1,118.7 611.1,118.7 607.1,118.6 603.1,118.6 599.1,118.5 595.1,118.5 591.1,118.5 587.1,118.5 583.1,118.4 579.0,118.4 575.0,118.4 571.0,118.4 567.0,118.4 563.0,118.3 559.0,118.3 555.0,118.3 551.0,118.2 547.0,118.2 543.0,118.2 539.0,118.1 535.0,118.1 531.0,118.1 527.0,118.1 523.0,118.0 519.0,118.0 515.0,118.0 511.0,117.9 507.0,117.9 503.0,117.9 499.0,117.9 495.0,117.8 491.0,117.8 487.0,117.8 483.0,117.8 479.0,117.7 475.0,117.7 471.0,117.7 467.0,117.7 463.0,117.7 459.0,117.7 455.0,117.8 450.9,117.8 446.9,117.8 442.9,117.9 438.9,117.9 434.9,118.0 430.9,118.1 426.9,118.2 422.9,118.2 418.9,118.3 414.9,118.4 410.9,118.4 406.9,118.5 402.9,118.6 398.9,118.6 394.9,118.7 390.9,118.8 386.9,118.8 382.9,118.9 378.9,119.0 374.9,119.1 370.9,119.1 366.9,119.2 362.9,119.3 358.9,119.3 354.9,119.4 350.9,119.4 346.9,119.5 342.9,119.5 338.9,119.5 334.9,119.5 330.9,119.6 326.9,119.6 322.9,119.6 318.9,119.6 314.9,119.6 310.9,119.6 306.8,119.7 302.8,119.7 298.8,119.7 294.8,119.7 290.8,119.8 286.7,119.8 282.8,120.0 278.9,120.6 275.2,121.8 271.7,123.5Z" fill="#00ff00"/>
<path d="M271.7,119.6 275.2,118.2 279.0,117.4 282.8,117.1 286.8,117.0 290.8,117.0 294.9,116.9 298.9,116.9 302.9,116.9 306.9,116.9 310.9,116.8 314.9,116.8 318.9,116.8 322.9,116.8 326.9,116.8 330.9,116.8 334.9,116.7 338.9,116.7 342.9,116.7 346.9,116.6 350.9,116.6 354.9,116.6 358.9,116.5 362.9,116.4 366.9,116.4 370.9,116.3 374.9,116.2 378.9,116.1 382.9,116.1 386.9,116.0 390.9,115.9 394.9,115.9 398.9,115.8 402.9,115.7 406.9,115.7 410.9,115.6 414.9,115.6 418.9,115.5 422.9,115.5 426.9,115.4 430.9,115.4 434.9,115.3 438.9,115.3 442.9,115.2 446.9,115.2 450.9,115.2 454.9,115.1 458.9,115.1 462.9,115.1 466.9,115.1 470.9,115.1 474.9,115.1 478.9,115.1 482.9,115.0 486.9,115.0 490.9,115.0 494.9,115.0 498.9,115.0 502.9,115.0 506.9,115.0 510.9,115.0 514.9,115.0 518.9,115.0 522.9,115.0 526.9,115.0 530.9,115.0 534.9,115.0 538.9,115.0 542.9,115.0 546.9,115.1 550.9,115.1 554.9,115.1 558.9,115.1 562.9,115.1 566.9,115.1 570.9,115.1 574.9,115.1 578.9,115.1 582.9,115.1 586.9,115.1 590.9,115.1 594.9,115.1 598.9,115.2 602.9,115.2 606.9,115.2 610.9,115.2 614.9,115.2 618.9,115.2 622.9,115.2 626.9,115.3 630.9,115.4 634.9,115.4 638.9,115.5 642.9,115.6 646.9,115.7 650.9,115.8 654.9,115.9 658.9,116.0 662.9,116.1 666.9,116.2 670.9,116.3 674.9,116.4 678.9,116.5 682.9,116.7 686.9,116.8 690.9,116.9 694.9,117.0 698.9,117.2 702.9,117.3 706.9,117.5 710.9,117.6 714.9,117.8 718.9,118.0 722.9,118.2 726.9,118.4 730.9,118.6 734.9,118.8 738.9,119.1 742.9,119.3 746.9,119.5 750.9,119.8 754.8,120.0 758.8,120.3 762.8,120.5 766.8,120.7 770.8,121.0 774.8,121.2 778.8,121.5 782.8,121.8 786.8,122.2 790.7,122.7 794.7,123.2 798.7,123.7 802.6,124.3 806.6,124.8 810.6,125.3 814.5,125.9 818.5,126.5 822.4,127.2 826.3,127.9 830.3,128.7 834.2,129.5 838.1,130.3 842.0,131.1 846.0,131.8 849.9,132.5 853.8,133.2 857.8,133.9 861.7,134.8 865.6,135.6 869.5,136.5 873.4,137.5 877.2,138.5 881.1,139.5 885.0,140.5 888.8,141.5 892.7,142.6 896.6,143.6 900.4,144.7 904.3,145.8 908.1,146.8 912.0,147.9 915.8,149.1 919.6,150.4 923.4,151.7 927.1,153.1 930.7,154.7 934.3,156.4 937.8,158.2 941.2,160.3 944.4,162.6 947.5,165.0 950.5,167.6 955.5,172.7 958.1,175.7 960.6,178.7 962.9,181.9 965.1,185.2 967.3,188.6 969.4,192.0 971.4,195.4 973.3,198.9 975.1,202.5 976.8,206.1 978.4,209.7 979.9,213.4 981.4,217.1 983.0,220.8 984.6,224.5 986.1,228.2 987.5,231.9 988.7,235.7 989.9,239.5 991.0,243.4 992.1,247.2 993.2,251.1 994.2,255.0 995.2,258.8 996.2,262.7 997.2,266.6 998.2,270.5 999.2,274.3 1000.2,278.2 1001.1,282.1 1002.0,286.0 1002.8,289.9 1003.6,293.8 1004.3,297.8 1005.0,301.7 1005.7,305.7 1006.3,309.6 1007.0,313.5 1007.6,317.5 1008.3,321.4 1008.9,325.4 1009.5,329.4 1010.0,333.3 1010.5,337.3 1011.1,341.2 1011.7,345.2 1012.4,349.1 1013.0,353.1 1013.6,357.0 1014.3,361.0 1014.9,364.9 1015.5,368.9 1016.1,372.9 1016.7,376.8 1017.2,380.8 1017.8,384.7 1018.3,388.7 1018.8,392.7 1019.3,396.6 1019.8,400.6 1020.2,404.6 1020.7,408.6 1021.2,412.5 1021.6,416.5 1022.1,420.5 1022.5,424.5 1023.0,428.4 1023.4,432.4 1023.9,436.4 1024.3,440.4 1024.7,444.3 1025.2,448.3 1025.6,452.3 1026.0,456.3 1026.4,460.3 1026.9,464.2 1027.3,468.2 1027.7,472.2 1028.2,476.2 1028.6,480.1 1029.1,484.1 1029.5,488.1 1030.0,492.1 1030.4,496.0 1030.8,500.0 1031.2,504.0 1031.6,508.0 1032.0,512.0 1032.4,515.9 1032.9,519.9 1033.3,523.9 1033.7,527.9 1034.2,531.8 1034.6,535.8 1035.1,539.8 1035.5,543.8 1035.9,547.8 1036.3,551.7 1036.7,555.7 1037.1,559.7 1037.5,563.7 1037.9,567.7 1038.2,571.6 1038.6,575.6 1039.0,579.6 1039.4,583.6 1039.8,587.6 1040.2,591.6 1040.6,595.5 1041.0,599.5 1041.4,603.5 1041.8,607.5 1042.3,611.4 1042.7,615.4 1043.0,619.4 1043.4,623.4 1043.8,627.4 1044.1,631.4 1044.5,635.3 1044.8,639.3 1045.1,643.3 1045.4,647.3 1045.7,651.3 1046.0,655.3 1046.4,659.3 1046.7,663.3 1047.0,667.3 1047.4,671.2 1047.7,675.2 1048.1,679.2 1048.5,683.2 1048.9,687.2 1049.3,691.2 1049.7,695.1 1050.0,699.1 1050.4,703.1 1050.8,707.1 1051.1,711.1 1051.5,715.1 1051.9,719.0 1052.2,723.0 1052.6,727.0 1052.9,731.0 1053.2,735.0 1053.6,739.0 1053.9,743.0 1054.2,746.9 1054.6,750.9 1054.9,754.9 1055.3,758.9 1055.7,762.9 1056.1,766.9 1056.5,770.8 1057.0,774.8 1057.4,778.8 1057.8,782.8 1058.3,786.7 1058.7,790.7 1059.2,794.7 1059.6,798.7 1060.0,802.6 1060.4,806.6 1060.8,810.6 1061.2,814.6 1061.6,818.6 1062.0,822.6 1062.4,826.5 1062.8,830.5 1063.2,834.5 1063.6,838.5 1064.0,842.5 1064.4,846.4 1064.9,850.4 1065.3,854.4 1065.7,858.4 1066.1,862.3 1066.6,866.3 1067.0,870.3 1067.5,874.3 1068.0,878.2 1068.5,882.2 1069.0,886.2 1069.5,890.1 1070.1,894.1 1070.6,898.1 1071.2,902.0 1071.8,906.0 1072.3,909.9 1072.9,913.9 1073.5,917.9 1074.0,921.8 1074.6,925.8 1075.2,929.7 1075.8,933.7 1076.4,937.7 1077.0,941.6 1077.7,945.6 1078.4,949.5 1079.1,953.4 1079.7,957.4 1080.4,961.3 1081.0,965.3 1081.6,969.2 1082.2,973.2 1083.0,977.1 1083.8,981.0 1084.8,984.9 1085.8,988.8 1086.9,992.6 1088.1,996.5 1089.4,1000.3 1090.7,1004.0 1092.3,1007.7 1094.0,1011.3 1096.0,1014.9 1098.2,1018.2 1100.7,1021.4 1101.4,1021.9 1104.4,1024.7 1107.7,1027.1 1111.2,1029.1 1114.8,1030.9 1118.5,1032.4 1122.3,1033.7 1126.1,1034.9 1130.0,1036.1 1133.9,1037.1 1137.7,1038.1 1141.6,1039.0 1145.5,1039.9 1149.5,1040.7 1153.4,1041.5 1157.3,1042.3 1161.2,1043.0 1165.2,1043.7 1169.1,1044.4 1173.1,1045.0 1177.0,1045.7 1181.0,1046.3 1184.9,1046.9 1188.9,1047.5 1192.8,1048.2 1196.8,1048.9 1200.7,1049.5 1204.7,1050.2 1208.6,1050.8 1212.6,1051.4 1216.5,1052.0 1220.5,1052.6 1224.4,1053.3 1228.4,1053.9 1232.3,1054.6 1236.3,1055.2 1240.2,1055.9 1244.1,1056.6 1248.1,1057.3 1252.0,1058.1 1255.9,1058.9 1259.8,1059.8 1263.7,1060.7 1267.6,1061.7 1271.5,1062.6 1275.3,1063.6 1279.2,1064.6 1283.1,1065.6 1287.0,1066.5 1290.9,1067.4 1294.8,1068.3 1298.7,1069.3 1302.5,1070.3 1306.3,1071.5 1310.1,1072.8 1313.9,1074.1 1317.6,1075.5 1321.4,1076.9 1325.2,1078.2 1328.9,1079.6 1332.7,1080.9 1336.5,1082.3 1340.2,1083.7 1344.0,1085.0 1347.8,1086.3 1351.6,1087.6 1355.4,1088.8 1359.2,1090.0 1363.0,1091.2 1366.9,1092.3 1370.7,1093.3 1374.6,1094.4 1378.5,1095.4 1382.4,1096.4 1386.3,1097.2 1390.2,1098.0 1394.1,1098.7 1398.1,1099.4 1402.1,1099.9 1406.0,1100.4 1410.0,1100.9 1414.0,1101.2 1418.0,1101.6 1422.0,1101.9 1426.0,1102.1 1430.0,1102.4 1434.0,1102.6 1438.0,1102.7 1441.9,1102.9 1445.9,1103.0 1449.9,1103.1 1453.9,1103.2 1457.9,1103.3 1461.9,1103.4 1465.9,1103.5 1469.9,1103.6 1473.9,1103.6 1477.9,1103.7 1481.9,1103.7 1485.9,1103.8 1489.9,1103.8 1493.9,1103.8 1497.9,1103.8 1501.9,1103.8 1505.9,1103.9 1509.9,1103.9 1514.0,1103.9 1518.0,1103.9 1522.0,1103.9 1526.0,1103.9 1530.0,1103.9 1534.0,1103.9 1538.0,1103.9 1542.0,1103.9 1546.0,1103.9 1550.0,1103.9 1554.0,1104.0 1558.0,1104.0 1562.0,1104.0 1566.0,1104.0 1570.0,1104.0 1574.0,1104.0 1578.0,1104.0 1582.0,1104.1 1586.0,1104.1 1590.0,1104.1 1594.0,1104.2 1598.0,1104.2 1602.0,1104.3 1606.0,1104.3 1610.0,1104.3 1614.0,1104.4 1618.0,1104.4 1622.0,1104.5 1626.0,1104.5 1630.0,1104.6 1634.0,1104.6 1638.0,1104.6 1642.0,1104.7 1646.0,1104.7 1650.0,1104.7 1654.0,1104.7 1658.0,1104.7 1662.0,1104.7 1666.0,1104.7 1670.0,1104.8 1674.0,1104.8 1678.0,1104.8 1682.0,1104.8 1686.0,1104.8 1690.0,1104.8 1694.0,1104.8 1698.0,1104.8 1702.0,1104.8 1706.0,1104.8 1710.0,1104.8 1714.0,1104.9 1718.0,1104.9 1722.0,1104.9 1726.0,1104.9 1730.0,1104.9 1734.0,1104.9 1738.0,1104.9 1742.0,1104.9 1746.0,1104.9 1750.0,1104.9 1754.0,1104.9 1758.0,1104.9 1762.0,1104.9 1766.0,1104.9 1770.0,1105.0 1774.0,1105.0 1778.0,1105.0 1782.0,1105.0 1786.0,1105.0 1790.0,1105.0 1794.0,1105.0 1798.0,1105.0 1802.0,1105.0 1806.0,1105.0 1810.0,1105.0 1814.0,1105.0 1818.0,1105.0 1822.0,1105.0 1826.0,1105.0 1830.0,1105.0 1834.0,1105.0 1838.0,1105.0 1842.0,1105.0 1844.0,1105.0 1844.0,1108.0 1842.0,1108.0 1838.0,1108.0 1834.0,1108.0 1830.0,1108.0 1826.0,1108.0 1822.0,1108.0 1818.0,1108.0 1814.0,1108.0 1810.0,1108.0 1806.0,1108.0 1802.0,1108.0 1798.0,1108.0 1794.0,1108.0 1790.0,1108.0 1786.0,1108.0 1782.0,1108.0 1778.0,1108.0 1774.0,1108.0 1770.0,1108.0 1766.0,1107.9 1762.0,1107.9 1758.0,1107.9 1754.0,1107.9 1750.0,1107.9 1746.0,1107.9 1742.0,1107.9 1738.0,1107.9 1734.0,1107.9 1730.0,1107.9 1726.0,1107.9 1722.0,1107.9 1718.0,1107.9 1714.0,1107.9 1710.0,1107.9 1706.0,1107.8 1702.0,1107.8 1698.0,1107.8 1694.0,1107.8 1690.0,1107.8 1686.0,1107.8 1682.0,1107.8 1678.0,1107.8 1674.0,1107.8 1670.0,1107.8 1666.0,1107.7 1662.0,1107.7 1658.0,1107.7 1654.0,1107.7 1650.0,1107.7 1646.0,1107.7 1642.0,1107.7 1638.0,1107.6 1634.0,1107.6 1630.0,1107.6 1626.0,1107.5 1622.0,1107.5 1618.0,1107.5 1614.0,1107.4 1610.0,1107.4 1606.0,1107.3 1602.0,1107.3 1598.0,1107.2 1594.0,1107.2 1590.0,1107.2 1586.0,1107.1 1582.0,1107.1 1578.0,1107.1 1574.0,1107.0 1570.0,1107.0 1566.0,1107.0 1562.0,1107.0 1558.0,1107.0 1554.0,1107.0 1550.0,1106.9 1546.0,1106.9 1542.0,1106.9 1538.0,1106.9 1534.0,1106.9 1530.0,1106.9 1526.0,1106.9 1522.0,1106.9 1518.0,1106.9 1514.0,1106.9 1509.9,1106.9 1505.9,1106.9 1501.9,1106.9 1497.9,1106.8 1493.9,1106.8 1489.9,1106.8 1485.9,1106.8 1481.9,1106.8 1477.9,1106.7 1473.9,1106.7 1469.9,1106.6 1465.9,1106.5 1461.9,1106.5 1457.9,1106.4 1453.9,1106.3 1449.9,1106.2 1445.9,1106.1 1441.9,1105.9 1438.0,1105.8 1434.0,1105.6 1430.0,1105.5 1426.0,1105.2 1422.0,1105.0 1418.0,1104.7 1414.0,1104.4 1410.0,1104.0 1406.0,1103.6 1402.1,1103.2 1398.1,1102.7 1394.1,1102.1 1390.2,1101.4 1386.3,1100.6 1382.4,1099.8 1378.5,1098.9 1374.6,1097.9 1370.7,1096.9 1366.9,1095.8 1363.0,1094.7 1359.2,1093.6 1355.4,1092.4 1351.6,1091.2 1347.8,1090.0 1344.0,1088.7 1340.2,1087.4 1336.5,1086.0 1332.7,1084.7 1328.9,1083.3 1325.2,1082.0 1321.4,1080.6 1317.6,1079.2 1313.9,1077.9 1310.1,1076.5 1306.3,1075.2 1302.5,1073.9 1298.7,1072.8 1294.8,1071.8 1290.9,1070.9 1287.0,1070.0 1283.1,1069.1 1279.2,1068.1 1275.3,1067.1 1271.5,1066.1 1267.6,1065.2 1263.7,1064.2 1259.8,1063.2 1255.9,1062.3 1252.0,1061.5 1248.1,1060.7 1244.1,1060.0 1240.2,1059.3 1236.3,1058.6 1232.3,1057.9 1228.4,1057.2 1224.4,1056.6 1220.5,1055.9 1216.5,1055.3 1212.6,1054.7 1208.6,1054.1 1204.7,1053.5 1200.7,1052.9 1196.8,1052.2 1192.8,1051.5 1188.9,1050.9 1184.9,1050.2 1181.0,1049.6 1177.0,1049.0 1173.1,1048.4 1169.1,1047.7 1165.2,1047.0 1161.2,1046.4 1157.3,1045.6 1153.4,1044.9 1149.5,1044.1 1145.5,1043.3 1141.6,1042.5 1137.7,1041.6 1133.9,1040.6 1130.0,1039.6 1126.1,1038.5 1122.3,1037.4 1118.5,1036.1 1114.8,1034.7 1111.2,1033.2 1107.7,1031.3 1104.4,1029.2 1101.4,1026.8 1096.8,1021.4 1094.6,1018.2 1092.5,1014.9 1090.7,1011.3 1089.0,1007.7 1087.5,1004.0 1086.2,1000.3 1085.0,996.5 1083.8,992.6 1082.7,988.8 1081.7,984.9 1080.8,981.0 1079.9,977.1 1079.2,973.2 1078.6,969.2 1078.0,965.3 1077.3,961.3 1076.7,957.4 1076.0,953.4 1075.3,949.5 1074.7,945.6 1074.0,941.6 1073.4,937.7 1072.8,933.7 1072.2,929.7 1071.6,925.8 1071.0,921.8 1070.5,917.9 1069.9,913.9 1069.3,909.9 1068.8,906.0 1068.2,902.0 1067.6,898.1 1067.1,894.1 1066.5,890.1 1066.0,886.2 1065.5,882.2 1065.0,878.2 1064.5,874.3 1064.0,870.3 1063.6,866.3 1063.1,862.3 1062.7,858.4 1062.3,854.4 1061.8,850.4 1061.4,846.4 1061.0,842.5 1060.6,838.5 1060.2,834.5 1059.8,830.5 1059.4,826.5 1059.0,822.6 1058.6,818.6 1058.2,814.6 1057.8,810.6 1057.4,806.6 1057.0,802.6 1056.6,798.7 1056.1,794.7 1055.7,790.7 1055.3,786.7 1054.8,782.8 1054.4,778.8 1053.9,774.8 1053.5,770.8 1053.1,766.9 1052.7,762.9 1052.3,758.9 1051.9,754.9 1051.6,750.9 1051.2,746.9 1050.9,743.0 1050.6,739.0 1050.2,735.0 1049.9,731.0 1049.5,727.0 1049.2,723.0 1048.8,719.0 1048.5,715.1 1048.1,711.1 1047.8,707.1 1047.4,703.1 1047.0,699.1 1046.6,695.1 1046.3,691.2 1045.9,687.2 1045.5,683.2 1045.1,679.2 1044.7,675.2 1044.4,671.2 1044.0,667.3 1043.7,663.3 1043.3,659.3 1043.0,655.3 1042.7,651.3 1042.4,647.3 1042.1,643.3 1041.8,639.3 1041.5,635.3 1041.1,631.4 1040.8,627.4 1040.4,623.4 1040.0,619.4 1039.6,615.4 1039.2,611.4 1038.8,607.5 1038.4,603.5 1038.0,599.5 1037.6,595.5 1037.2,591.6 1036.8,587.6 1036.4,583.6 1036.0,579.6 1035.6,575.6 1035.2,571.6 1034.8,567.7 1034.5,563.7 1034.1,559.7 1033.7,555.7 1033.3,551.7 1032.9,547.8 1032.5,543.8 1032.1,539.8 1031.6,535.8 1031.2,531.8 1030.7,527.9 1030.3,523.9 1029.8,519.9 1029.4,515.9 1029.0,512.0 1028.6,508.0 1028.2,504.0 1027.8,500.0 1027.4,496.0 1027.0,492.1 1026.5,488.1 1026.1,484.1 1025.6,480.1 1025.2,476.2 1024.7,472.2 1024.3,468.2 1023.9,464.2 1023.4,460.3 1023.0,456.3 1022.6,452.3 1022.2,448.3 1021.7,444.3 1021.3,440.4 1020.9,436.4 1020.4,432.4 1020.0,428.4 1019.5,424.5 1019.1,420.5 1018.6,416.5 1018.2,412.5 1017.7,408.6 1017.2,404.6 1016.7,400.6 1016.3,396.6 1015.8,392.7 1015.3,388.7 1014.7,384.7 1014.2,380.8 1013.6,376.8 1013.1,372.9 1012.5,368.9 1011.9,364.9 1011.2,361.0 1010.6,357.0 1010.0,353.1 1009.3,349.1 1008.7,345.2 1008.0,341.2 1007.5,337.3 1007.0,333.3 1006.4,329.4 1005.9,325.4 1005.3,321.4 1004.6,317.5 1004.0,313.5 1003.3,309.6 1002.6,305.7 1002.0,301.7 1001.3,297.8 1000.5,293.8 999.8,289.9 998.9,286.0 998.0,282.1 997.1,278.2 996.1,274.3 995.1,270.5 994.1,266.6 993.1,262.7 992.1,258.8 991.1,255.0 990.1,251.1 989.0,247.2 987.9,243.4 986.8,239.5 985.6,235.7 984.3,231.9 982.9,228.2 981.4,224.5 979.8,220.8 978.2,217.1 976.7,213.4 975.1,209.7 973.5,206.1 971.8,202.5 969.9,198.9 968.0,195.4 965.9,192.0 963.7,188.6 961.5,185.2 959.2,181.9 956.8,178.7 954.1,175.7 951.3,172.7 950.5,172.4 947.5,169.7 944.4,167.1 941.2,164.7 937.8,162.4 934.3,160.4 930.7,158.6 927.1,156.9 923.4,155.4 919.6,154.1 915.8,152.8 912.0,151.6 908.1,150.4 904.3,149.3 900.4,148.2 896.6,147.2 892.7,146.1 888.8,145.1 885.0,144.0 881.1,143.0 877.2,142.0 873.4,141.0 869.5,140.0 865.6,139.1 861.7,138.2 857.8,137.4 853.8,136.6 849.9,135.8 846.0,135.1 842.0,134.4 838.1,133.7 834.2,132.9 830.3,132.1 826.3,131.3 822.4,130.6 818.5,129.9 814.5,129.2 810.6,128.6 806.6,128.1 802.6,127.5 798.7,127.0 794.7,126.5 790.7,126.0 786.8,125.5 782.8,125.0 778.8,124.7 774.8,124.3 770.8,124.1 766.8,123.8 762.8,123.6 758.8,123.4 754.8,123.2 750.9,122.9 746.9,122.7 742.9,122.4 738.9,122.2 734.9,122.0 730.9,121.7 726.9,121.5 722.9,121.3 718.9,121.1 714.9,120.9 710.9,120.7 706.9,120.6 702.9,120.4 698.9,120.3 694.9,120.1 690.9,120.0 686.9,119.8 682.9,119.7 678.9,119.6 674.9,119.5 670.9,119.4 666.9,119.2 662.9,119.1 658.9,119.0 654.9,118.9 650.9,118.8 646.9,118.7 642.9,118.6 638.9,118.6 634.9,118.5 630.9,118.4 626.9,118.3 622.9,118.3 618.9,118.2 614.9,118.2 610.9,118.2 606.9,118.2 602.9,118.2 598.9,118.2 594.9,118.2 590.9,118.1 586.9,118.1 582.9,118.1 578.9,118.1 574.9,118.1 570.9,118.1 566.9,118.1 562.9,118.1 558.9,118.1 554.9,118.1 550.9,118.1 546.9,118.1 542.9,118.1 538.9,118.0 534.9,118.0 530.9,118.0 526.9,118.0 522.9,118.0 518.9,118.0 514.9,118.0 510.9,118.0 506.9,118.0 502.9,118.0 498.9,118.0 494.9,118.0 490.9,118.0 486.9,118.0 482.9,118.1 478.9,118.1 474.9,118.1 470.9,118.1 466.9,118.1 462.9,118.1 458.9,118.1 454.9,118.2 450.9,118.2 446.9,118.2 442.9,118.3 438.9,118.3 434.9,118.3 430.9,118.4 426.9,118.4 422.9,118.5 418.9,118.5 414.9,118.6 410.9,118.7 406.9,118.7 402.9,118.8 398.9,118.8 394.9,118.9 390.9,119.0 386.9,119.0 382.9,119.1 378.9,119.2 374.9,119.2 370.9,119.3 366.9,119.4 362.9,119.5 358.9,119.5 354.9,119.6 350.9,119.6 346.9,119.7 342.9,119.7 338.9,119.7 334.9,119.7 330.9,119.8 326.9,119.8 322.9,119.8 318.9,119.8 314.9,119.8 310.9,119.8 306.9,119.9 302.9,119.9 298.9,119.9 294.9,119.9 290.8,120.0 286.8,120.0 282.8,120.2 279.0,120.8 275.2,121.9 271.7,123.4Z" fill="#0000ff"/>
</g>
<g font-family="'Liberation Serif', serif" font-weight="bold" fill="#000" style="font-kerning:none">
<text x="233" y="1170.6" text-anchor="end" font-size="51">0</text>
<text x="233" y="963.9" text-anchor="end" font-size="51">20</text>
<text x="233" y="757.2" text-anchor="end" font-size="51">40</text>
<text x="233" y="550.5" text-anchor="end" font-size="51">60</text>
<text x="233" y="343.8" text-anchor="end" font-size="51">80</text>
<text x="233" y="137.1" text-anchor="end" font-size="51">100</text>
<text x="415.3" y="1255" text-anchor="middle" font-size="51">100</text>
<text x="619.5" y="1255" text-anchor="middle" font-size="51">200</text>
<text x="823.6" y="1255" text-anchor="middle" font-size="51">300</text>
<text x="1027.8" y="1255" text-anchor="middle" font-size="51">400</text>
<text x="1232.0" y="1255" text-anchor="middle" font-size="51">500</text>
<text x="1436.2" y="1255" text-anchor="middle" font-size="51">600</text>
<text x="1640.3" y="1255" text-anchor="middle" font-size="51">700</text>
<text x="1844.5" y="1255" text-anchor="middle" font-size="51">800</text>
<text x="1058.5" y="1357" text-anchor="middle" font-size="62.5">Temperature (°C)</text>
<text transform="translate(59.8,640.4) rotate(-90)" text-anchor="middle" font-size="62.5">Weight loss (%)</text>
</g>
</svg></body></html>
